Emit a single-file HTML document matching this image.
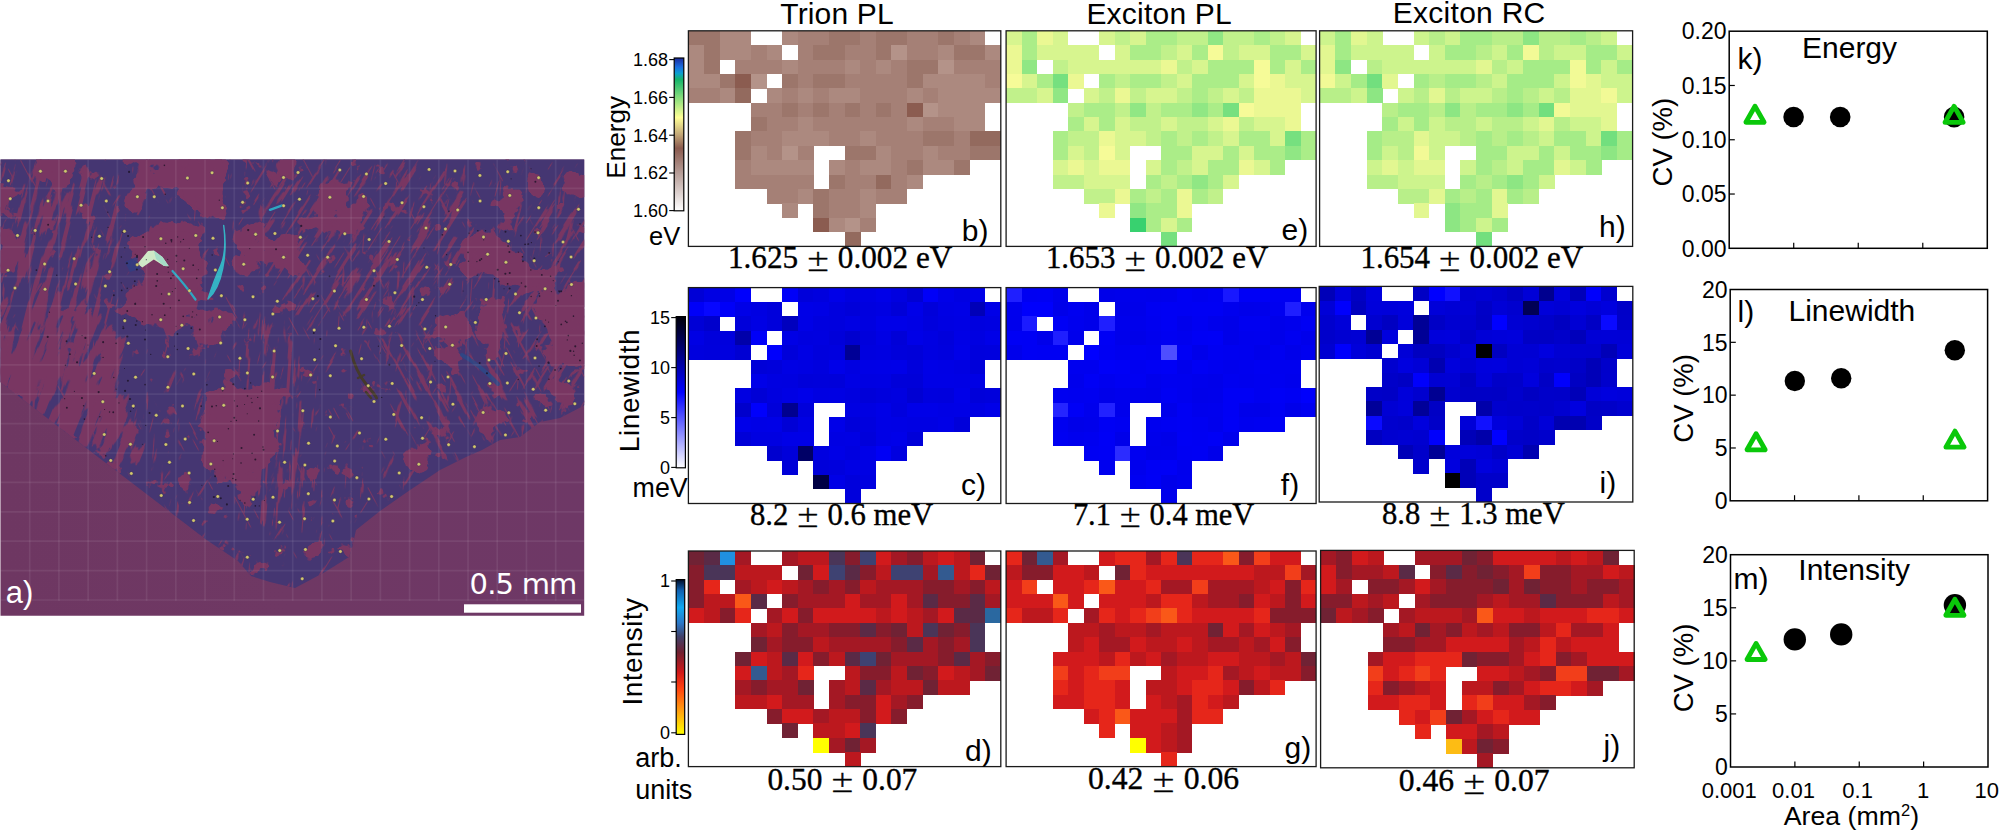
<!DOCTYPE html>
<html lang="en"><head><meta charset="utf-8"><title>Figure</title>
<style>
html,body{margin:0;padding:0;background:#fff;}
body{width:2000px;height:832px;overflow:hidden;}
svg{display:block;}
text{font-family:"Liberation Sans", sans-serif;fill:#000;}
.s{font-family:"Liberation Serif", serif;stroke:#000;stroke-width:0.35px;}
.w{fill:#fff;}
</style></head><body>
<svg width="2000" height="832" viewBox="0 0 2000 832">
<rect width="2000" height="832" fill="#fff"/>
<defs>
<clipPath id="mclip"><rect x="0.5" y="159.6" width="583.7" height="456.2"/></clipPath>
<clipPath id="fclip"><path d="M0 159 L585 159 L585 405 L560 418 L540 422 L520 437 L500 440 L482 450 L466 457 L440 470 L410 490 L380 511 L356 530 L352 548 L349 557 L325 572 L295 588 L270 582 L251 576 L238 561 L206 539.5 L100 458.4 L0 382 Z"/></clipPath>
<filter id="orgA" filterUnits="userSpaceOnUse" x="-300" y="-200" width="1300" height="1300" color-interpolation-filters="sRGB"><feGaussianBlur in="SourceAlpha" stdDeviation="4" result="b"/><feTurbulence type="fractalNoise" baseFrequency="0.05 0.05" numOctaves="4" seed="5" result="n"/><feColorMatrix in="n" type="matrix" values="0 0 0 0 0  0 0 0 0 0  0 0 0 0 0  1 0 0 0 0" result="na"/><feComposite in="b" in2="na" operator="arithmetic" k1="0" k2="0.66" k3="1.7" k4="-0.71" result="s"/><feComponentTransfer in="s" result="t"><feFuncA type="linear" slope="14" intercept="-6.5"/></feComponentTransfer><feFlood flood-color="#793662" result="c"/><feComposite in="c" in2="t" operator="in"/></filter>
<filter id="orgB" filterUnits="userSpaceOnUse" x="-300" y="-200" width="1300" height="1300" color-interpolation-filters="sRGB"><feGaussianBlur in="SourceAlpha" stdDeviation="3.5" result="b"/><feTurbulence type="fractalNoise" baseFrequency="0.06 0.06" numOctaves="3" seed="17" result="n"/><feColorMatrix in="n" type="matrix" values="0 0 0 0 0  0 0 0 0 0  0 0 0 0 0  1 0 0 0 0" result="na"/><feComposite in="b" in2="na" operator="arithmetic" k1="0" k2="0.9" k3="0.9" k4="-0.5" result="s"/><feComponentTransfer in="s" result="t"><feFuncA type="linear" slope="14" intercept="-6.5"/></feComponentTransfer><feFlood flood-color="#793662" result="c"/><feComposite in="c" in2="t" operator="in"/></filter>
<filter id="orgS" filterUnits="userSpaceOnUse" x="-300" y="-200" width="1300" height="1300" color-interpolation-filters="sRGB"><feGaussianBlur in="SourceAlpha" stdDeviation="10" result="b"/><feTurbulence type="fractalNoise" baseFrequency="0.17 0.02" numOctaves="3" seed="9" result="n"/><feColorMatrix in="n" type="matrix" values="0 0 0 0 0  0 0 0 0 0  0 0 0 0 0  1 0 0 0 0" result="na"/><feComposite in="b" in2="na" operator="arithmetic" k1="0" k2="0.44" k3="1.9" k4="-1" result="s"/><feComponentTransfer in="s" result="t"><feFuncA type="linear" slope="14" intercept="-6.5"/></feComponentTransfer><feFlood flood-color="#793662" result="c"/><feComposite in="c" in2="t" operator="in"/></filter>
<filter id="orgS4" filterUnits="userSpaceOnUse" x="-300" y="-200" width="1300" height="1300" color-interpolation-filters="sRGB"><feGaussianBlur in="SourceAlpha" stdDeviation="8" result="b"/><feTurbulence type="fractalNoise" baseFrequency="0.12 0.02" numOctaves="3" seed="31" result="n"/><feColorMatrix in="n" type="matrix" values="0 0 0 0 0  0 0 0 0 0  0 0 0 0 0  1 0 0 0 0" result="na"/><feComposite in="b" in2="na" operator="arithmetic" k1="0" k2="0.74" k3="1.9" k4="-1" result="s"/><feComponentTransfer in="s" result="t"><feFuncA type="linear" slope="14" intercept="-6.5"/></feComponentTransfer><feFlood flood-color="#793662" result="c"/><feComposite in="c" in2="t" operator="in"/></filter>
<filter id="orgS5" filterUnits="userSpaceOnUse" x="-300" y="-200" width="1300" height="1300" color-interpolation-filters="sRGB"><feGaussianBlur in="SourceAlpha" stdDeviation="10" result="b"/><feTurbulence type="fractalNoise" baseFrequency="0.2 0.022" numOctaves="3" seed="41" result="n"/><feColorMatrix in="n" type="matrix" values="0 0 0 0 0  0 0 0 0 0  0 0 0 0 0  1 0 0 0 0" result="na"/><feComposite in="b" in2="na" operator="arithmetic" k1="0" k2="0.31" k3="1.9" k4="-1" result="s"/><feComponentTransfer in="s" result="t"><feFuncA type="linear" slope="14" intercept="-6.5"/></feComponentTransfer><feFlood flood-color="#793662" result="c"/><feComposite in="c" in2="t" operator="in"/></filter>
<filter id="orgS2" filterUnits="userSpaceOnUse" x="-300" y="-200" width="1300" height="1300" color-interpolation-filters="sRGB"><feGaussianBlur in="SourceAlpha" stdDeviation="10" result="b"/><feTurbulence type="fractalNoise" baseFrequency="0.22 0.024" numOctaves="3" seed="14" result="n"/><feColorMatrix in="n" type="matrix" values="0 0 0 0 0  0 0 0 0 0  0 0 0 0 0  1 0 0 0 0" result="na"/><feComposite in="b" in2="na" operator="arithmetic" k1="0" k2="0.37" k3="1.9" k4="-1" result="s"/><feComponentTransfer in="s" result="t"><feFuncA type="linear" slope="14" intercept="-6.5"/></feComponentTransfer><feFlood flood-color="#793662" result="c"/><feComposite in="c" in2="t" operator="in"/></filter>
<filter id="orgS3" filterUnits="userSpaceOnUse" x="-300" y="-200" width="1300" height="1300" color-interpolation-filters="sRGB"><feGaussianBlur in="SourceAlpha" stdDeviation="10" result="b"/><feTurbulence type="fractalNoise" baseFrequency="0.21 0.02" numOctaves="3" seed="23" result="n"/><feColorMatrix in="n" type="matrix" values="0 0 0 0 0  0 0 0 0 0  0 0 0 0 0  1 0 0 0 0" result="na"/><feComposite in="b" in2="na" operator="arithmetic" k1="0" k2="0.4" k3="1.9" k4="-1" result="s"/><feComponentTransfer in="s" result="t"><feFuncA type="linear" slope="14" intercept="-6.5"/></feComponentTransfer><feFlood flood-color="#793662" result="c"/><feComposite in="c" in2="t" operator="in"/></filter>
<filter id="edge" x="-5%" y="-5%" width="110%" height="110%"><feTurbulence type="fractalNoise" baseFrequency="0.08" numOctaves="2" seed="8" result="n"/><feDisplacementMap in="SourceGraphic" in2="n" scale="5" xChannelSelector="R" yChannelSelector="G"/></filter>
<linearGradient id="bgg" x1="0" y1="0" x2="1" y2="0"><stop offset="0" stop-color="#6e3762"/><stop offset="0.5" stop-color="#6f3864"/><stop offset="1" stop-color="#6e3866"/></linearGradient>
</defs>
<g clip-path="url(#mclip)">
<rect x="0" y="159" width="585" height="458" fill="url(#bgg)"/>
<g clip-path="url(#fclip)">
<rect x="0" y="159" width="585" height="440" fill="#453672"/>
<g filter="url(#orgA)">
<path d="M174 150 L226 150 L226 190 L224 218 L202 219 L178 194 Z"/><path d="M117 150 L176 150 L176 186 L150 188 L128 182 Z"/><path d="M119 192 L146 191 L147 212 L124 213 Z"/><path d="M33 150 L72 150 L70 188 L40 190 Z"/><path d="M-8 184 L11 184 L12 218 L-8 220 Z"/><path d="M-8 234 L15 234 L15 270 L-8 270 Z"/><path d="M128 232 L168 224 L200 228 L205 270 L200 318 L170 330 L128 320 L122 290 L150 276 L130 262 Z"/><path d="M228 228 L261 226 L262 276 L236 278 Z"/><path d="M264 237 L300 236 L300 276 L266 276 Z"/><path d="M190 309 L228 309 L229 343 L192 343 Z"/><path d="M292 217 L336 217 L336 229 L292 229 Z"/><path d="M322 180 L340 180 L341 205 L323 206 Z"/><path d="M263 160 L290 160 L290 182 L264 182 Z"/><path d="M466 232 L485 228 L504 240 L524 259 L552 278 L558 294 L531 290 L508 288 L493 278 L466 270 L460 251 Z"/><path d="M500 188 L523 187 L524 211 L501 211 Z"/><path d="M531 172 L546 172 L546 197 L531 197 Z"/><path d="M564 172 L592 172 L592 194 L564 194 Z"/><path d="M539 287 L592 284 L592 372 L560 372 L545 340 L536 312 Z"/><path d="M477 297 L504 297 L504 353 L478 353 Z"/><path d="M435 343 L466 343 L466 363 L436 363 Z"/><path d="M317 189 L365 189 L365 228 L318 228 Z"/><path d="M434 312 L470 312 L470 338 L436 338 Z"/><path d="M212 392 L264 382 L284 398 L276 442 L258 478 L240 505 L222 488 L202 460 L201 424 Z"/><path d="M165 477 L189 477 L189 490 L165 490 Z"/><path d="M299 464 L314 464 L314 481 L299 481 Z"/><path d="M311 542 L319 542 L319 553 L311 553 Z"/><path d="M400 455 L430 440 L445 452 L418 476 Z"/><path d="M470 420 L500 405 L512 420 L488 440 Z"/><path d="M530 395 L560 380 L575 395 L548 415 Z"/>
</g>
<g filter="url(#orgB)">
<path d="M176 150 L224 150 L224 190 L222 216 L204 217 L180 196 Z"/><path d="M468 234 L485 230 L504 242 L524 261 L550 278 L554 292 L531 288 L508 286 L494 276 L468 268 L463 251 Z"/><path d="M215 397 L262 387 L280 400 L272 440 L256 472 L226 482 L206 456 L205 426 Z"/><path d="M130 236 L166 228 L198 232 L202 268 L198 312 L170 324 L132 316 L126 292 L150 280 L134 262 Z"/><path d="M541 292 L592 288 L592 366 L562 366 L548 338 L540 312 Z"/>
</g>
<g transform="rotate(14 292 380)" filter="url(#orgS)"><g transform="rotate(-14 292 380)"><path d="M-10 165 L110 165 L125 300 L80 400 L-10 390 Z"/></g></g>
<g transform="rotate(22 292 380)" filter="url(#orgS4)"><g transform="rotate(-22 292 380)"><path d="M-8 300 L60 296 L110 318 L128 350 L120 400 L140 440 L150 470 L100 462 L-8 384 Z"/></g></g>
<g transform="rotate(32 292 380)" filter="url(#orgS2)"><g transform="rotate(-32 292 380)"><path d="M250 165 L460 165 L470 300 L420 330 L300 330 L260 260 Z"/><path d="M520 200 L590 200 L590 400 L520 400 Z"/></g></g>
<g transform="rotate(4 292 380)" filter="url(#orgS3)"><g transform="rotate(-4 292 380)"><path d="M245 330 L310 330 L305 530 L240 520 Z"/></g></g>
<g transform="rotate(-28 292 380)" filter="url(#orgS5)"><g transform="rotate(28 292 380)"><path d="M380 330 L560 330 L540 430 L400 470 Z"/></g></g>
<path d="M462 355 Q480 365 498 384" stroke="#2b4a88" stroke-width="4" fill="none" stroke-linecap="round" opacity="0.8"/>
<path d="M350.6 351 Q356 372 366 384 T376.5 398" stroke="#453a2c" stroke-width="3" fill="none" stroke-linecap="round"/>
<path d="M358 378 l6 -3 M366 392 l5 6" stroke="#453a2c" stroke-width="2.5" fill="none" stroke-linecap="round"/>
</g>
<path d="M137.5 263.7 L148 251 L153.8 250.6 L162.5 257 L168.8 266.2 L164 266 L153.8 259.5 L142.3 267.5 Z" fill="#cfe9c6"/>
<path d="M153.8 250.6 L162.5 257 L168.8 266.2 L164 266 L156 259 Z" fill="#a6dcc8"/>
<path d="M125 262 L138 256 L137.5 263.7 L142 268 L130 272 Z" fill="#2d3f86" opacity="0.7"/>
<path d="M172.5 271 Q186 286 195.5 299.5" stroke="#2fa6c2" stroke-width="2.2" fill="none" stroke-linecap="round"/>
<path d="M223.7 225.5 Q227 247 222.7 268.5 T208 299 Q214 280 220.5 266 T223.7 225.5 Z" fill="#35b3c4" stroke="#35b3c4" stroke-width="1.4" stroke-linejoin="round"/>
<path d="M270 209.8 L282.3 205.4" stroke="#2fa6c2" stroke-width="2.4" fill="none" stroke-linecap="round"/>
<g fill="#1c1226" opacity="0.8">
<circle cx="156.19" cy="285.98" r="1.05"/><circle cx="157.25" cy="280.78" r="0.85"/><circle cx="134.77" cy="281.19" r="0.88"/><circle cx="183.44" cy="239.41" r="0.68"/><circle cx="127.25" cy="310.96" r="0.92"/><circle cx="123.35" cy="328.22" r="1.08"/><circle cx="172.31" cy="291.56" r="0.59"/><circle cx="121.2" cy="282.84" r="0.54"/><circle cx="135.22" cy="254.19" r="0.52"/><circle cx="157.11" cy="274.05" r="1.01"/><circle cx="161.53" cy="294.03" r="0.8"/><circle cx="173" cy="275.73" r="0.67"/><circle cx="199.81" cy="329.57" r="1"/><circle cx="176.62" cy="261.53" r="0.64"/><circle cx="143.12" cy="237.02" r="0.96"/><circle cx="152.03" cy="314.66" r="0.73"/><circle cx="196.64" cy="314.73" r="0.5"/><circle cx="136.78" cy="321.03" r="0.78"/><circle cx="198.43" cy="269.74" r="0.54"/><circle cx="170.36" cy="307.85" r="0.66"/><circle cx="126.97" cy="263.26" r="1.08"/><circle cx="180.64" cy="241.8" r="0.65"/><circle cx="128.08" cy="235.99" r="0.98"/><circle cx="134.21" cy="285.93" r="0.77"/><circle cx="135.25" cy="303.19" r="0.58"/><circle cx="171.5" cy="241.65" r="0.75"/><circle cx="137.03" cy="256.98" r="1.08"/><circle cx="184.27" cy="260.41" r="1.03"/><circle cx="136.86" cy="269.43" r="1.01"/><circle cx="171.35" cy="240.03" r="1.09"/><circle cx="137.06" cy="255.83" r="0.96"/><circle cx="146.32" cy="259.63" r="0.54"/><circle cx="127.21" cy="288.27" r="0.65"/><circle cx="168.1" cy="267.17" r="0.77"/><circle cx="196.73" cy="278.37" r="0.84"/><circle cx="189.32" cy="248.28" r="0.59"/><circle cx="192.67" cy="311.78" r="0.65"/><circle cx="135.18" cy="303.94" r="1.06"/><circle cx="135.73" cy="325.01" r="1.03"/><circle cx="168.28" cy="272.15" r="0.56"/><circle cx="123.1" cy="326.27" r="0.64"/><circle cx="176.37" cy="255.7" r="0.99"/><circle cx="167.72" cy="259.34" r="0.61"/><circle cx="177.63" cy="236.88" r="0.64"/><circle cx="164.75" cy="315.24" r="0.87"/><circle cx="142.42" cy="321.74" r="0.62"/><circle cx="121.33" cy="256.92" r="0.77"/><circle cx="124.84" cy="247.63" r="0.72"/><circle cx="165.77" cy="243.16" r="0.72"/><circle cx="191.28" cy="328.05" r="0.89"/><circle cx="175.3" cy="288.44" r="0.58"/><circle cx="122.81" cy="231.79" r="1.05"/><circle cx="176.08" cy="326.28" r="0.51"/><circle cx="170.89" cy="278.22" r="0.94"/><circle cx="145.51" cy="329.94" r="0.55"/><circle cx="163.69" cy="303.7" r="1.04"/><circle cx="178.97" cy="300.37" r="0.98"/><circle cx="193.2" cy="265.18" r="0.91"/><circle cx="192.07" cy="317.11" r="0.75"/><circle cx="183.24" cy="316.35" r="0.84"/><circle cx="522.5" cy="256.76" r="0.85"/><circle cx="520.89" cy="235.61" r="0.88"/><circle cx="559.33" cy="291.59" r="0.94"/><circle cx="498.84" cy="281.45" r="0.85"/><circle cx="504.05" cy="288.69" r="0.55"/><circle cx="535.02" cy="232.09" r="0.86"/><circle cx="508.1" cy="246.12" r="0.92"/><circle cx="509.73" cy="273.02" r="1.05"/><circle cx="485.58" cy="230.79" r="0.68"/><circle cx="527.81" cy="244.18" r="0.6"/><circle cx="550.57" cy="276.2" r="0.77"/><circle cx="549.17" cy="252.89" r="0.9"/><circle cx="479.85" cy="260.16" r="0.98"/><circle cx="551.42" cy="291.62" r="0.73"/><circle cx="518.31" cy="252.15" r="0.58"/><circle cx="509.65" cy="288.6" r="1.01"/><circle cx="531.12" cy="296.5" r="0.67"/><circle cx="476.91" cy="261.55" r="0.67"/><circle cx="481.41" cy="258.98" r="0.88"/><circle cx="509.39" cy="252.08" r="1"/><circle cx="558.2" cy="261.67" r="0.54"/><circle cx="463.15" cy="291.1" r="0.52"/><circle cx="530.86" cy="269.94" r="0.69"/><circle cx="539.15" cy="231.34" r="0.58"/><circle cx="505.48" cy="231.73" r="1"/><circle cx="483.74" cy="239.86" r="0.53"/><circle cx="522.92" cy="261.25" r="0.88"/><circle cx="525.5" cy="286.52" r="1.08"/><circle cx="528.45" cy="243.95" r="0.79"/><circle cx="477.87" cy="230.75" r="0.78"/><circle cx="531.42" cy="242.54" r="0.66"/><circle cx="494.57" cy="278.81" r="0.81"/><circle cx="521.44" cy="282.93" r="0.74"/><circle cx="539.19" cy="293.44" r="0.55"/><circle cx="553.26" cy="280.57" r="0.58"/><circle cx="505.35" cy="273.79" r="1.05"/><circle cx="497.68" cy="269.82" r="1.03"/><circle cx="539.68" cy="296.1" r="0.78"/><circle cx="525.13" cy="244.34" r="0.93"/><circle cx="541.83" cy="274.91" r="0.93"/><circle cx="213.86" cy="497" r="1.09"/><circle cx="263.53" cy="449.8" r="0.97"/><circle cx="220.83" cy="498.3" r="1.01"/><circle cx="222.65" cy="390.76" r="0.76"/><circle cx="235.77" cy="479.87" r="0.79"/><circle cx="201.85" cy="485.19" r="0.54"/><circle cx="251.99" cy="402.48" r="0.7"/><circle cx="251.21" cy="398.27" r="0.59"/><circle cx="233.57" cy="474.06" r="1"/><circle cx="244.81" cy="502.95" r="0.8"/><circle cx="261.7" cy="391.18" r="0.63"/><circle cx="234.23" cy="417.72" r="0.94"/><circle cx="241.53" cy="447.96" r="1.01"/><circle cx="236.4" cy="420.52" r="0.73"/><circle cx="254.94" cy="497.07" r="0.62"/><circle cx="255.3" cy="505.9" r="0.81"/><circle cx="237.24" cy="406.13" r="0.82"/><circle cx="232.71" cy="458.68" r="0.52"/><circle cx="263.01" cy="447.08" r="0.74"/><circle cx="252.07" cy="453.17" r="0.79"/><circle cx="244.91" cy="388.57" r="0.82"/><circle cx="226.9" cy="504.39" r="1.05"/><circle cx="217.5" cy="441.51" r="0.58"/><circle cx="228.19" cy="486.04" r="1.04"/><circle cx="230.97" cy="421.24" r="0.61"/><circle cx="240.16" cy="500.29" r="0.58"/><circle cx="250.65" cy="382.96" r="0.62"/><circle cx="214.77" cy="469.31" r="0.69"/><circle cx="223.1" cy="460.57" r="0.56"/><circle cx="247.51" cy="395.96" r="0.81"/><circle cx="216.29" cy="405.7" r="0.82"/><circle cx="228.39" cy="428.85" r="0.75"/><circle cx="234.41" cy="400.76" r="0.62"/><circle cx="241.04" cy="463" r="0.82"/><circle cx="255.33" cy="459.52" r="1.01"/><circle cx="215.12" cy="476.3" r="0.99"/><circle cx="258.67" cy="421.06" r="0.69"/><circle cx="259.98" cy="408.36" r="1.1"/><circle cx="257.69" cy="397.41" r="0.64"/><circle cx="247.23" cy="413.73" r="0.56"/><circle cx="254.09" cy="434.81" r="0.97"/><circle cx="208.19" cy="432.36" r="0.91"/><circle cx="201.15" cy="406.12" r="0.91"/><circle cx="259.24" cy="505.89" r="0.57"/><circle cx="232.87" cy="478.56" r="0.8"/><circle cx="244.57" cy="404.57" r="0.54"/><circle cx="206.9" cy="384.87" r="0.83"/><circle cx="233.46" cy="453.94" r="0.59"/><circle cx="211.99" cy="406.51" r="1"/><circle cx="264.37" cy="500.5" r="0.56"/><circle cx="539.04" cy="366.12" r="0.78"/><circle cx="573.47" cy="316.15" r="0.78"/><circle cx="561.25" cy="324.41" r="0.86"/><circle cx="536.65" cy="346.08" r="1.01"/><circle cx="544.88" cy="326.32" r="0.94"/><circle cx="555.86" cy="305.61" r="0.6"/><circle cx="561.12" cy="291.23" r="1.04"/><circle cx="575.28" cy="346.37" r="1.02"/><circle cx="566.84" cy="322.36" r="0.86"/><circle cx="560.71" cy="368.61" r="0.98"/><circle cx="548.65" cy="362.9" r="0.95"/><circle cx="574.12" cy="355.17" r="0.74"/><circle cx="579.93" cy="360.39" r="0.92"/><circle cx="573.6" cy="351.22" r="0.74"/><circle cx="571.41" cy="295.64" r="0.71"/><circle cx="558.97" cy="290.85" r="0.71"/><circle cx="567.3" cy="339.92" r="0.64"/><circle cx="582.29" cy="343.29" r="0.7"/><circle cx="568.33" cy="335.57" r="0.82"/><circle cx="555.09" cy="369.99" r="0.89"/><circle cx="570.36" cy="350.94" r="1.09"/><circle cx="537.12" cy="339.23" r="0.94"/><circle cx="548.58" cy="322.12" r="0.53"/><circle cx="545.58" cy="320.05" r="0.56"/><circle cx="548.29" cy="362.45" r="0.83"/><circle cx="105.7" cy="455.73" r="0.84"/><circle cx="149.56" cy="412.94" r="0.99"/><circle cx="66.86" cy="407.68" r="0.96"/><circle cx="74.39" cy="391.33" r="0.6"/><circle cx="104.6" cy="409.45" r="0.54"/><circle cx="145.07" cy="384.69" r="0.82"/><circle cx="113.8" cy="377.52" r="0.67"/><circle cx="118.96" cy="402.88" r="0.67"/><circle cx="124.49" cy="368.49" r="0.51"/><circle cx="82.05" cy="335.56" r="0.59"/><circle cx="127.92" cy="380.69" r="1.04"/><circle cx="127.35" cy="336.52" r="1.09"/><circle cx="145" cy="339.56" r="1.04"/><circle cx="98.66" cy="392.09" r="1.08"/><circle cx="81.93" cy="398.04" r="1.06"/><circle cx="125.05" cy="390.89" r="1.09"/><circle cx="133.5" cy="408.47" r="0.57"/><circle cx="116.18" cy="389.24" r="0.62"/><circle cx="64.69" cy="398.65" r="0.57"/><circle cx="99.86" cy="416.83" r="0.77"/><circle cx="83.59" cy="405.69" r="0.75"/><circle cx="130.02" cy="399" r="1.1"/><circle cx="145.74" cy="425.46" r="0.64"/><circle cx="130.59" cy="411.25" r="0.72"/><circle cx="84.44" cy="419.06" r="0.84"/><circle cx="113.25" cy="412.3" r="0.95"/><circle cx="77.08" cy="362.36" r="1.09"/><circle cx="142.41" cy="444.24" r="0.52"/><circle cx="65.47" cy="365.22" r="0.76"/><circle cx="116.1" cy="343.32" r="0.82"/><circle cx="66.52" cy="341.24" r="0.91"/><circle cx="109.56" cy="412.04" r="0.72"/><circle cx="103.07" cy="357.38" r="0.71"/><circle cx="434.98" cy="361.25" r="0.54"/><circle cx="69.96" cy="354.2" r="0.87"/><circle cx="448.95" cy="211.16" r="0.75"/><circle cx="150.71" cy="354.37" r="0.72"/><circle cx="381.74" cy="397.4" r="0.7"/><circle cx="320.39" cy="339.07" r="1.05"/><circle cx="249.75" cy="248.62" r="0.56"/><circle cx="511.1" cy="178.84" r="0.55"/><circle cx="329.5" cy="276.37" r="0.91"/><circle cx="174.54" cy="346.12" r="0.55"/><circle cx="124.54" cy="318.9" r="0.55"/><circle cx="177.42" cy="334" r="0.92"/><circle cx="165.22" cy="194.3" r="0.71"/><circle cx="423.97" cy="247.93" r="0.57"/><circle cx="414.22" cy="296.63" r="1.05"/><circle cx="548.92" cy="379.21" r="0.76"/><circle cx="468.98" cy="233.14" r="0.69"/><circle cx="233.36" cy="384.32" r="1.04"/><circle cx="145.01" cy="246.81" r="0.72"/><circle cx="212.17" cy="254.95" r="0.73"/><circle cx="113.86" cy="295.31" r="0.98"/><circle cx="315.69" cy="360.73" r="0.84"/><circle cx="103.13" cy="342.15" r="1.03"/><circle cx="164.37" cy="165.34" r="0.81"/><circle cx="317.78" cy="296.19" r="1.08"/><circle cx="380.3" cy="353.04" r="0.54"/><circle cx="319.34" cy="349.14" r="0.55"/><circle cx="47.7" cy="336.89" r="1.04"/><circle cx="49.46" cy="312.19" r="0.59"/><circle cx="435.54" cy="315.76" r="0.65"/><circle cx="128.74" cy="343.68" r="0.81"/><circle cx="446.59" cy="254.65" r="0.7"/><circle cx="565.47" cy="321.37" r="0.8"/><circle cx="313.81" cy="333.02" r="0.92"/><circle cx="534.35" cy="258.55" r="1"/><circle cx="389.37" cy="364.84" r="0.98"/><circle cx="486.96" cy="373.28" r="1.07"/><circle cx="373.92" cy="285.73" r="0.93"/><circle cx="468.52" cy="261.19" r="0.75"/><circle cx="85.37" cy="337.9" r="1.09"/><circle cx="219.31" cy="200.24" r="0.62"/><circle cx="248.17" cy="230.09" r="1.08"/><circle cx="34.58" cy="234.03" r="0.57"/><circle cx="378.42" cy="346.22" r="0.61"/><circle cx="36.41" cy="270.1" r="0.85"/><circle cx="531.03" cy="168.73" r="0.57"/><circle cx="107.77" cy="212.17" r="0.64"/><circle cx="418.87" cy="302.75" r="0.63"/><circle cx="108.03" cy="227.45" r="0.6"/><circle cx="442.38" cy="234.82" r="0.83"/><circle cx="477.2" cy="275.08" r="0.66"/><circle cx="518.25" cy="379.42" r="0.71"/><circle cx="319.65" cy="389.68" r="0.79"/><circle cx="129.07" cy="171.93" r="1.07"/><circle cx="468.03" cy="252.39" r="0.82"/><circle cx="301.24" cy="225.89" r="1.09"/><circle cx="384.01" cy="217.03" r="0.51"/><circle cx="276.03" cy="249.17" r="0.98"/><circle cx="416.56" cy="305.46" r="0.59"/><circle cx="91.64" cy="237.23" r="0.66"/><circle cx="507.64" cy="283.87" r="0.88"/><circle cx="579.98" cy="223.96" r="0.82"/><circle cx="87.98" cy="344.89" r="0.5"/><circle cx="479.71" cy="363.08" r="0.99"/><circle cx="48.14" cy="224.78" r="0.93"/><circle cx="56.75" cy="275.22" r="0.78"/><circle cx="558.01" cy="300.79" r="1.01"/><circle cx="177.3" cy="349.44" r="0.75"/><circle cx="535.39" cy="181.83" r="1"/><circle cx="121.71" cy="290.41" r="0.82"/>
</g>
<g stroke="#ffffff" stroke-opacity="0.075" stroke-width="1.7">
<line x1="29.72" y1="159.6" x2="29.72" y2="600.8"/><line x1="58.94" y1="159.6" x2="58.94" y2="600.8"/><line x1="88.16" y1="159.6" x2="88.16" y2="600.8"/><line x1="117.38" y1="159.6" x2="117.38" y2="600.8"/><line x1="146.6" y1="159.6" x2="146.6" y2="600.8"/><line x1="175.82" y1="159.6" x2="175.82" y2="600.8"/><line x1="205.04" y1="159.6" x2="205.04" y2="600.8"/><line x1="234.26" y1="159.6" x2="234.26" y2="600.8"/><line x1="263.48" y1="159.6" x2="263.48" y2="600.8"/><line x1="292.7" y1="159.6" x2="292.7" y2="600.8"/><line x1="321.92" y1="159.6" x2="321.92" y2="600.8"/><line x1="351.14" y1="159.6" x2="351.14" y2="600.8"/><line x1="380.36" y1="159.6" x2="380.36" y2="600.8"/><line x1="409.58" y1="159.6" x2="409.58" y2="600.8"/><line x1="438.8" y1="159.6" x2="438.8" y2="600.8"/><line x1="468.02" y1="159.6" x2="468.02" y2="600.8"/><line x1="497.24" y1="159.6" x2="497.24" y2="600.8"/><line x1="526.46" y1="159.6" x2="526.46" y2="600.8"/><line x1="555.68" y1="159.6" x2="555.68" y2="600.8"/><line x1="0" y1="188.4" x2="584" y2="188.4"/><line x1="0" y1="217.8" x2="584" y2="217.8"/><line x1="0" y1="247.2" x2="584" y2="247.2"/><line x1="0" y1="276.6" x2="584" y2="276.6"/><line x1="0" y1="306" x2="584" y2="306"/><line x1="0" y1="335.4" x2="584" y2="335.4"/><line x1="0" y1="364.8" x2="584" y2="364.8"/><line x1="0" y1="394.2" x2="584" y2="394.2"/><line x1="0" y1="423.6" x2="584" y2="423.6"/><line x1="0" y1="453" x2="584" y2="453"/><line x1="0" y1="482.4" x2="584" y2="482.4"/><line x1="0" y1="511.8" x2="584" y2="511.8"/><line x1="0" y1="541.2" x2="584" y2="541.2"/><line x1="0" y1="570.6" x2="584" y2="570.6"/><line x1="0" y1="600" x2="584" y2="600"/>
</g>
<g fill="#d2c66e" stroke="#241a48" stroke-opacity="0.45" stroke-width="0.7">
<circle cx="8.45" cy="180.68" r="1.75"/><circle cx="40.44" cy="171.29" r="1.75"/><circle cx="65.42" cy="171.2" r="1.75"/><circle cx="101.68" cy="178.57" r="1.75"/><circle cx="187.4" cy="178.07" r="1.75"/><circle cx="212.05" cy="172.8" r="1.75"/><circle cx="247.68" cy="183.1" r="1.75"/><circle cx="283.53" cy="177.47" r="1.75"/><circle cx="298.03" cy="172.49" r="1.75"/><circle cx="339.81" cy="169.97" r="1.75"/><circle cx="366.4" cy="173.95" r="1.75"/><circle cx="385.66" cy="183.55" r="1.75"/><circle cx="429.08" cy="169.42" r="1.75"/><circle cx="455" cy="170.93" r="1.75"/><circle cx="479.9" cy="175.42" r="1.75"/><circle cx="507.72" cy="171.77" r="1.75"/><circle cx="538.63" cy="177.7" r="1.75"/><circle cx="10.23" cy="198.7" r="1.75"/><circle cx="48" cy="201.03" r="1.75"/><circle cx="81.06" cy="205.23" r="1.75"/><circle cx="106.3" cy="201.07" r="1.75"/><circle cx="137.37" cy="196.76" r="1.75"/><circle cx="154.24" cy="196.8" r="1.75"/><circle cx="222.35" cy="207.85" r="1.75"/><circle cx="242.61" cy="202.34" r="1.75"/><circle cx="283.65" cy="205.77" r="1.75"/><circle cx="299.43" cy="199.18" r="1.75"/><circle cx="329.86" cy="197.33" r="1.75"/><circle cx="363.57" cy="196.41" r="1.75"/><circle cx="402.04" cy="202.79" r="1.75"/><circle cx="423.9" cy="206.75" r="1.75"/><circle cx="457.71" cy="209.88" r="1.75"/><circle cx="480.08" cy="201.07" r="1.75"/><circle cx="509.77" cy="195.38" r="1.75"/><circle cx="538.78" cy="207.7" r="1.75"/><circle cx="578.47" cy="209.31" r="1.75"/><circle cx="17.49" cy="235.45" r="1.75"/><circle cx="35.16" cy="230.46" r="1.75"/><circle cx="99.43" cy="236.21" r="1.75"/><circle cx="124.4" cy="231.3" r="1.75"/><circle cx="160.88" cy="238.69" r="1.75"/><circle cx="195.78" cy="235.51" r="1.75"/><circle cx="213" cy="238.3" r="1.75"/><circle cx="255.62" cy="234.37" r="1.75"/><circle cx="274.94" cy="233.51" r="1.75"/><circle cx="300.36" cy="237.34" r="1.75"/><circle cx="344.79" cy="233.79" r="1.75"/><circle cx="369.13" cy="239.54" r="1.75"/><circle cx="389.02" cy="241.51" r="1.75"/><circle cx="425.98" cy="228.06" r="1.75"/><circle cx="445.41" cy="228.9" r="1.75"/><circle cx="483.51" cy="237.05" r="1.75"/><circle cx="508.28" cy="241.22" r="1.75"/><circle cx="538.07" cy="232.83" r="1.75"/><circle cx="563.02" cy="242.02" r="1.75"/><circle cx="8.05" cy="270.17" r="1.75"/><circle cx="44.61" cy="263.99" r="1.75"/><circle cx="74.14" cy="258.66" r="1.75"/><circle cx="109.64" cy="271.76" r="1.75"/><circle cx="137.21" cy="264.73" r="1.75"/><circle cx="183.14" cy="268.74" r="1.75"/><circle cx="215.34" cy="270.05" r="1.75"/><circle cx="243.71" cy="264.22" r="1.75"/><circle cx="283.54" cy="257.24" r="1.75"/><circle cx="307.67" cy="255.27" r="1.75"/><circle cx="327.61" cy="257.14" r="1.75"/><circle cx="374.02" cy="270.81" r="1.75"/><circle cx="397.32" cy="259.44" r="1.75"/><circle cx="426.77" cy="267.18" r="1.75"/><circle cx="450.78" cy="264.55" r="1.75"/><circle cx="487.6" cy="254.19" r="1.75"/><circle cx="505.94" cy="262.32" r="1.75"/><circle cx="534.14" cy="260.85" r="1.75"/><circle cx="571.04" cy="257.03" r="1.75"/><circle cx="14.97" cy="288.05" r="1.75"/><circle cx="45.05" cy="289.28" r="1.75"/><circle cx="75.6" cy="283.98" r="1.75"/><circle cx="105.35" cy="285.91" r="1.75"/><circle cx="168.98" cy="294.1" r="1.75"/><circle cx="189.39" cy="290.71" r="1.75"/><circle cx="221.38" cy="295.71" r="1.75"/><circle cx="253.01" cy="296.83" r="1.75"/><circle cx="277.33" cy="301.2" r="1.75"/><circle cx="312.9" cy="298.69" r="1.75"/><circle cx="334.39" cy="291.11" r="1.75"/><circle cx="366.44" cy="299.59" r="1.75"/><circle cx="394.94" cy="292.75" r="1.75"/><circle cx="422.47" cy="299.58" r="1.75"/><circle cx="449.68" cy="284.28" r="1.75"/><circle cx="486.19" cy="299.5" r="1.75"/><circle cx="515.53" cy="294.06" r="1.75"/><circle cx="545.1" cy="288.79" r="1.75"/><circle cx="571.47" cy="284.56" r="1.75"/><circle cx="124.73" cy="320.75" r="1.75"/><circle cx="160.76" cy="319.84" r="1.75"/><circle cx="181.87" cy="325.21" r="1.75"/><circle cx="219.62" cy="317" r="1.75"/><circle cx="244.88" cy="319.82" r="1.75"/><circle cx="272.84" cy="313.93" r="1.75"/><circle cx="314.21" cy="330.1" r="1.75"/><circle cx="339.01" cy="328.3" r="1.75"/><circle cx="363.84" cy="327.19" r="1.75"/><circle cx="389.46" cy="326.14" r="1.75"/><circle cx="424.89" cy="328.96" r="1.75"/><circle cx="445.68" cy="326.96" r="1.75"/><circle cx="475.36" cy="322.38" r="1.75"/><circle cx="519.47" cy="312.71" r="1.75"/><circle cx="535.96" cy="318.09" r="1.75"/><circle cx="128.34" cy="343.23" r="1.75"/><circle cx="167.82" cy="356.78" r="1.75"/><circle cx="188.08" cy="348.52" r="1.75"/><circle cx="220.69" cy="342.93" r="1.75"/><circle cx="239.93" cy="358.27" r="1.75"/><circle cx="274.13" cy="351.07" r="1.75"/><circle cx="314.62" cy="359.69" r="1.75"/><circle cx="335.54" cy="345.82" r="1.75"/><circle cx="361.57" cy="358.71" r="1.75"/><circle cx="401.61" cy="345.62" r="1.75"/><circle cx="429.77" cy="348.47" r="1.75"/><circle cx="452.41" cy="345.19" r="1.75"/><circle cx="488.96" cy="360.02" r="1.75"/><circle cx="505.99" cy="353.48" r="1.75"/><circle cx="535.02" cy="357.94" r="1.75"/><circle cx="94.17" cy="373.41" r="1.75"/><circle cx="135.55" cy="377.13" r="1.75"/><circle cx="167.92" cy="387.15" r="1.75"/><circle cx="193.77" cy="373.93" r="1.75"/><circle cx="222.68" cy="388.38" r="1.75"/><circle cx="247.38" cy="372.92" r="1.75"/><circle cx="272.61" cy="377.03" r="1.75"/><circle cx="310.6" cy="375.04" r="1.75"/><circle cx="330.29" cy="375.74" r="1.75"/><circle cx="368.21" cy="385.73" r="1.75"/><circle cx="392.18" cy="383.42" r="1.75"/><circle cx="430.61" cy="382.12" r="1.75"/><circle cx="448.03" cy="376.92" r="1.75"/><circle cx="489.81" cy="383.51" r="1.75"/><circle cx="507.33" cy="383.02" r="1.75"/><circle cx="533.19" cy="389.19" r="1.75"/><circle cx="568.72" cy="381.01" r="1.75"/><circle cx="102.82" cy="401.72" r="1.75"/><circle cx="133.28" cy="406.02" r="1.75"/><circle cx="156.23" cy="415.36" r="1.75"/><circle cx="182.5" cy="406.03" r="1.75"/><circle cx="223.75" cy="405.33" r="1.75"/><circle cx="302.83" cy="410.77" r="1.75"/><circle cx="330.38" cy="417.05" r="1.75"/><circle cx="374.03" cy="401.51" r="1.75"/><circle cx="393.78" cy="414.41" r="1.75"/><circle cx="421.61" cy="417.63" r="1.75"/><circle cx="452.91" cy="404.14" r="1.75"/><circle cx="483.14" cy="412.51" r="1.75"/><circle cx="508.82" cy="412.75" r="1.75"/><circle cx="545.66" cy="410.2" r="1.75"/><circle cx="574.82" cy="403.87" r="1.75"/><circle cx="104.22" cy="434.54" r="1.75"/><circle cx="130.42" cy="444.21" r="1.75"/><circle cx="165.87" cy="444.54" r="1.75"/><circle cx="185.18" cy="439.1" r="1.75"/><circle cx="214.13" cy="440.74" r="1.75"/><circle cx="277.57" cy="430.94" r="1.75"/><circle cx="308.55" cy="443.16" r="1.75"/><circle cx="337.34" cy="446.01" r="1.75"/><circle cx="359.49" cy="433.03" r="1.75"/><circle cx="385.79" cy="439.23" r="1.75"/><circle cx="422.51" cy="438.25" r="1.75"/><circle cx="448.64" cy="444.67" r="1.75"/><circle cx="474.44" cy="446.63" r="1.75"/><circle cx="505.44" cy="434.89" r="1.75"/><circle cx="110.74" cy="460.46" r="1.75"/><circle cx="131.3" cy="473.4" r="1.75"/><circle cx="169.46" cy="462.3" r="1.75"/><circle cx="189.13" cy="473.11" r="1.75"/><circle cx="210.86" cy="464.03" r="1.75"/><circle cx="284.61" cy="462.25" r="1.75"/><circle cx="304.88" cy="465.07" r="1.75"/><circle cx="334.67" cy="461.08" r="1.75"/><circle cx="356.87" cy="477.63" r="1.75"/><circle cx="399.21" cy="472.91" r="1.75"/><circle cx="418.83" cy="464.26" r="1.75"/><circle cx="161.23" cy="495.52" r="1.75"/><circle cx="189.55" cy="502.42" r="1.75"/><circle cx="217.79" cy="496.47" r="1.75"/><circle cx="253.18" cy="499.21" r="1.75"/><circle cx="272.99" cy="497.13" r="1.75"/><circle cx="308.31" cy="493.69" r="1.75"/><circle cx="334.46" cy="500.05" r="1.75"/><circle cx="368.89" cy="499.01" r="1.75"/><circle cx="391.62" cy="496.57" r="1.75"/><circle cx="193.56" cy="520.55" r="1.75"/><circle cx="247.2" cy="519.23" r="1.75"/><circle cx="279.5" cy="522.13" r="1.75"/><circle cx="304.56" cy="518.69" r="1.75"/><circle cx="332.85" cy="521.12" r="1.75"/><circle cx="247.3" cy="557.14" r="1.75"/><circle cx="279.74" cy="550.59" r="1.75"/><circle cx="305.42" cy="549.44" r="1.75"/><circle cx="340.4" cy="551.5" r="1.75"/><circle cx="302.22" cy="578.81" r="1.75"/>
</g>
</g>
<text class="w" x="5.8" y="602.7" font-size="31">a)</text>
<text class="w" x="469.5" y="593.9" font-size="29" letter-spacing="-0.8" style="font-family:'DejaVu Sans','Liberation Sans',sans-serif">0.5 mm</text>
<rect x="464" y="604.3" width="117" height="8.4" fill="#fff"/>
<g shape-rendering="crispEdges">
<rect x="688.4" y="30.8" width="31.54" height="14.67" fill="#9c766b"/><rect x="719.64" y="30.8" width="31.54" height="14.67" fill="#ac897f"/><rect x="782.12" y="30.8" width="15.92" height="14.67" fill="#ac897f"/><rect x="797.74" y="30.8" width="31.54" height="14.67" fill="#a58076"/><rect x="828.98" y="30.8" width="31.54" height="14.67" fill="#9c766b"/><rect x="860.22" y="30.8" width="15.92" height="14.67" fill="#a58076"/><rect x="875.84" y="30.8" width="31.54" height="14.67" fill="#9c766b"/><rect x="907.08" y="30.8" width="31.54" height="14.67" fill="#a58076"/><rect x="938.32" y="30.8" width="15.92" height="14.67" fill="#9c766b"/><rect x="953.94" y="30.8" width="15.92" height="14.67" fill="#a58076"/><rect x="969.56" y="30.8" width="15.92" height="14.67" fill="#ac897f"/>
<rect x="688.4" y="45.17" width="15.92" height="14.67" fill="#ac897f"/><rect x="704.02" y="45.17" width="15.92" height="14.67" fill="#9c766b"/><rect x="719.64" y="45.17" width="31.54" height="14.67" fill="#ac897f"/><rect x="750.88" y="45.17" width="15.92" height="14.67" fill="#a58076"/><rect x="766.5" y="45.17" width="15.92" height="14.67" fill="#ac897f"/><rect x="797.74" y="45.17" width="15.92" height="14.67" fill="#a58076"/><rect x="813.36" y="45.17" width="31.54" height="14.67" fill="#9c766b"/><rect x="844.6" y="45.17" width="31.54" height="14.67" fill="#a58076"/><rect x="875.84" y="45.17" width="15.92" height="14.67" fill="#9c766b"/><rect x="891.46" y="45.17" width="15.92" height="14.67" fill="#b49389"/><rect x="907.08" y="45.17" width="31.54" height="14.67" fill="#a58076"/><rect x="938.32" y="45.17" width="15.92" height="14.67" fill="#ac897f"/><rect x="953.94" y="45.17" width="31.54" height="14.67" fill="#9c766b"/><rect x="985.18" y="45.17" width="15.92" height="14.67" fill="#ac897f"/>
<rect x="688.4" y="59.55" width="15.92" height="14.67" fill="#ac897f"/><rect x="704.02" y="59.55" width="15.92" height="14.67" fill="#9c766b"/><rect x="735.26" y="59.55" width="47.16" height="14.67" fill="#a58076"/><rect x="782.12" y="59.55" width="15.92" height="14.67" fill="#ac897f"/><rect x="797.74" y="59.55" width="47.16" height="14.67" fill="#a58076"/><rect x="844.6" y="59.55" width="15.92" height="14.67" fill="#ac897f"/><rect x="860.22" y="59.55" width="15.92" height="14.67" fill="#a58076"/><rect x="875.84" y="59.55" width="15.92" height="14.67" fill="#ac897f"/><rect x="891.46" y="59.55" width="15.92" height="14.67" fill="#a58076"/><rect x="907.08" y="59.55" width="31.54" height="14.67" fill="#9c766b"/><rect x="938.32" y="59.55" width="15.92" height="14.67" fill="#b49389"/><rect x="953.94" y="59.55" width="47.16" height="14.67" fill="#a58076"/>
<rect x="688.4" y="73.92" width="31.54" height="14.67" fill="#ac897f"/><rect x="719.64" y="73.92" width="15.92" height="14.67" fill="#9c766b"/><rect x="735.26" y="73.92" width="15.92" height="14.67" fill="#8b5c50"/><rect x="750.88" y="73.92" width="15.92" height="14.67" fill="#b49389"/><rect x="782.12" y="73.92" width="15.92" height="14.67" fill="#9c766b"/><rect x="797.74" y="73.92" width="15.92" height="14.67" fill="#a58076"/><rect x="813.36" y="73.92" width="31.54" height="14.67" fill="#9c766b"/><rect x="844.6" y="73.92" width="62.78" height="14.67" fill="#a58076"/><rect x="907.08" y="73.92" width="15.92" height="14.67" fill="#9c766b"/><rect x="922.7" y="73.92" width="62.78" height="14.67" fill="#ac897f"/><rect x="985.18" y="73.92" width="15.92" height="14.67" fill="#a58076"/>
<rect x="688.4" y="88.29" width="31.54" height="14.67" fill="#a58076"/><rect x="719.64" y="88.29" width="15.92" height="14.67" fill="#ac897f"/><rect x="735.26" y="88.29" width="15.92" height="14.67" fill="#936a5e"/><rect x="766.5" y="88.29" width="15.92" height="14.67" fill="#ac897f"/><rect x="782.12" y="88.29" width="15.92" height="14.67" fill="#a58076"/><rect x="797.74" y="88.29" width="15.92" height="14.67" fill="#ac897f"/><rect x="813.36" y="88.29" width="15.92" height="14.67" fill="#a58076"/><rect x="828.98" y="88.29" width="31.54" height="14.67" fill="#ac897f"/><rect x="860.22" y="88.29" width="47.16" height="14.67" fill="#a58076"/><rect x="907.08" y="88.29" width="15.92" height="14.67" fill="#ac897f"/><rect x="922.7" y="88.29" width="15.92" height="14.67" fill="#a58076"/><rect x="938.32" y="88.29" width="62.78" height="14.67" fill="#ac897f"/>
<rect x="750.88" y="102.67" width="31.54" height="14.67" fill="#a58076"/><rect x="782.12" y="102.67" width="15.92" height="14.67" fill="#9c766b"/><rect x="797.74" y="102.67" width="15.92" height="14.67" fill="#a58076"/><rect x="813.36" y="102.67" width="15.92" height="14.67" fill="#9c766b"/><rect x="828.98" y="102.67" width="15.92" height="14.67" fill="#a58076"/><rect x="844.6" y="102.67" width="15.92" height="14.67" fill="#9c766b"/><rect x="860.22" y="102.67" width="15.92" height="14.67" fill="#a58076"/><rect x="875.84" y="102.67" width="15.92" height="14.67" fill="#9c766b"/><rect x="891.46" y="102.67" width="15.92" height="14.67" fill="#a58076"/><rect x="907.08" y="102.67" width="15.92" height="14.67" fill="#8b5c50"/><rect x="922.7" y="102.67" width="15.92" height="14.67" fill="#b49389"/><rect x="938.32" y="102.67" width="47.16" height="14.67" fill="#ac897f"/>
<rect x="750.88" y="117.04" width="15.92" height="14.67" fill="#9c766b"/><rect x="766.5" y="117.04" width="31.54" height="14.67" fill="#a58076"/><rect x="797.74" y="117.04" width="15.92" height="14.67" fill="#ac897f"/><rect x="813.36" y="117.04" width="94.02" height="14.67" fill="#a58076"/><rect x="907.08" y="117.04" width="15.92" height="14.67" fill="#ac897f"/><rect x="922.7" y="117.04" width="31.54" height="14.67" fill="#a58076"/><rect x="953.94" y="117.04" width="31.54" height="14.67" fill="#ac897f"/>
<rect x="735.26" y="131.41" width="15.92" height="14.67" fill="#9c766b"/><rect x="750.88" y="131.41" width="31.54" height="14.67" fill="#a58076"/><rect x="782.12" y="131.41" width="47.16" height="14.67" fill="#ac897f"/><rect x="828.98" y="131.41" width="31.54" height="14.67" fill="#a58076"/><rect x="860.22" y="131.41" width="15.92" height="14.67" fill="#ac897f"/><rect x="875.84" y="131.41" width="47.16" height="14.67" fill="#a58076"/><rect x="922.7" y="131.41" width="31.54" height="14.67" fill="#9c766b"/><rect x="953.94" y="131.41" width="15.92" height="14.67" fill="#a58076"/><rect x="969.56" y="131.41" width="31.54" height="14.67" fill="#936a5e"/>
<rect x="735.26" y="145.79" width="15.92" height="14.67" fill="#9c766b"/><rect x="750.88" y="145.79" width="15.92" height="14.67" fill="#ac897f"/><rect x="766.5" y="145.79" width="15.92" height="14.67" fill="#a58076"/><rect x="782.12" y="145.79" width="15.92" height="14.67" fill="#b49389"/><rect x="797.74" y="145.79" width="15.92" height="14.67" fill="#a58076"/><rect x="844.6" y="145.79" width="31.54" height="14.67" fill="#9c766b"/><rect x="875.84" y="145.79" width="15.92" height="14.67" fill="#ac897f"/><rect x="891.46" y="145.79" width="31.54" height="14.67" fill="#a58076"/><rect x="922.7" y="145.79" width="15.92" height="14.67" fill="#ac897f"/><rect x="938.32" y="145.79" width="31.54" height="14.67" fill="#a58076"/><rect x="969.56" y="145.79" width="31.54" height="14.67" fill="#9c766b"/>
<rect x="735.26" y="160.16" width="15.92" height="14.67" fill="#a58076"/><rect x="750.88" y="160.16" width="62.78" height="14.67" fill="#ac897f"/><rect x="828.98" y="160.16" width="15.92" height="14.67" fill="#ac897f"/><rect x="844.6" y="160.16" width="15.92" height="14.67" fill="#a58076"/><rect x="860.22" y="160.16" width="31.54" height="14.67" fill="#ac897f"/><rect x="891.46" y="160.16" width="15.92" height="14.67" fill="#a58076"/><rect x="907.08" y="160.16" width="15.92" height="14.67" fill="#9c766b"/><rect x="922.7" y="160.16" width="31.54" height="14.67" fill="#ac897f"/><rect x="953.94" y="160.16" width="15.92" height="14.67" fill="#9c766b"/>
<rect x="735.26" y="174.53" width="78.4" height="14.67" fill="#a58076"/><rect x="828.98" y="174.53" width="15.92" height="14.67" fill="#9c766b"/><rect x="844.6" y="174.53" width="31.54" height="14.67" fill="#a58076"/><rect x="875.84" y="174.53" width="15.92" height="14.67" fill="#936a5e"/><rect x="891.46" y="174.53" width="15.92" height="14.67" fill="#a58076"/><rect x="907.08" y="174.53" width="15.92" height="14.67" fill="#ac897f"/>
<rect x="766.5" y="188.91" width="31.54" height="14.67" fill="#a58076"/><rect x="797.74" y="188.91" width="15.92" height="14.67" fill="#ac897f"/><rect x="813.36" y="188.91" width="15.92" height="14.67" fill="#9c766b"/><rect x="828.98" y="188.91" width="31.54" height="14.67" fill="#a58076"/><rect x="860.22" y="188.91" width="15.92" height="14.67" fill="#ac897f"/><rect x="875.84" y="188.91" width="31.54" height="14.67" fill="#a58076"/>
<rect x="782.12" y="203.28" width="15.92" height="14.67" fill="#ac897f"/><rect x="813.36" y="203.28" width="15.92" height="14.67" fill="#9c766b"/><rect x="828.98" y="203.28" width="31.54" height="14.67" fill="#a58076"/><rect x="860.22" y="203.28" width="15.92" height="14.67" fill="#ac897f"/>
<rect x="813.36" y="217.65" width="15.92" height="14.67" fill="#8b5c50"/><rect x="828.98" y="217.65" width="15.92" height="14.67" fill="#ac897f"/><rect x="844.6" y="217.65" width="15.92" height="14.67" fill="#b49389"/><rect x="860.22" y="217.65" width="15.92" height="14.67" fill="#a58076"/>
<rect x="844.6" y="232.03" width="15.92" height="14.67" fill="#936a5e"/>
</g>
<rect x="688.4" y="30.8" width="312.4" height="215.6" fill="none" stroke="#1a1a1a" stroke-width="1.3"/>
<g shape-rendering="crispEdges">
<rect x="1006.1" y="30.8" width="15.8" height="14.67" fill="#d7f58f"/><rect x="1021.6" y="30.8" width="15.8" height="14.67" fill="#abed88"/><rect x="1037.1" y="30.8" width="15.8" height="14.67" fill="#ebf893"/><rect x="1052.6" y="30.8" width="15.8" height="14.67" fill="#d7f58f"/><rect x="1099.1" y="30.8" width="15.8" height="14.67" fill="#d7f58f"/><rect x="1114.6" y="30.8" width="15.8" height="14.67" fill="#c1f18b"/><rect x="1130.1" y="30.8" width="15.8" height="14.67" fill="#d7f58f"/><rect x="1145.6" y="30.8" width="31.3" height="14.67" fill="#abed88"/><rect x="1176.6" y="30.8" width="31.3" height="14.67" fill="#c1f18b"/><rect x="1207.6" y="30.8" width="15.8" height="14.67" fill="#90e784"/><rect x="1223.1" y="30.8" width="31.3" height="14.67" fill="#c1f18b"/><rect x="1254.1" y="30.8" width="15.8" height="14.67" fill="#abed88"/><rect x="1269.6" y="30.8" width="15.8" height="14.67" fill="#c1f18b"/><rect x="1285.1" y="30.8" width="15.8" height="14.67" fill="#d7f58f"/>
<rect x="1006.1" y="45.17" width="15.8" height="14.67" fill="#ebf893"/><rect x="1021.6" y="45.17" width="15.8" height="14.67" fill="#abed88"/><rect x="1037.1" y="45.17" width="62.3" height="14.67" fill="#d7f58f"/><rect x="1114.6" y="45.17" width="15.8" height="14.67" fill="#d7f58f"/><rect x="1130.1" y="45.17" width="31.3" height="14.67" fill="#abed88"/><rect x="1161.1" y="45.17" width="15.8" height="14.67" fill="#c1f18b"/><rect x="1176.6" y="45.17" width="15.8" height="14.67" fill="#d7f58f"/><rect x="1192.1" y="45.17" width="15.8" height="14.67" fill="#abed88"/><rect x="1207.6" y="45.17" width="15.8" height="14.67" fill="#f6fb98"/><rect x="1223.1" y="45.17" width="15.8" height="14.67" fill="#c1f18b"/><rect x="1238.6" y="45.17" width="31.3" height="14.67" fill="#d7f58f"/><rect x="1269.6" y="45.17" width="31.3" height="14.67" fill="#abed88"/><rect x="1300.6" y="45.17" width="15.8" height="14.67" fill="#d7f58f"/>
<rect x="1006.1" y="59.55" width="15.8" height="14.67" fill="#ebf893"/><rect x="1021.6" y="59.55" width="15.8" height="14.67" fill="#90e784"/><rect x="1052.6" y="59.55" width="15.8" height="14.67" fill="#c1f18b"/><rect x="1068.1" y="59.55" width="93.3" height="14.67" fill="#d7f58f"/><rect x="1161.1" y="59.55" width="15.8" height="14.67" fill="#ebf893"/><rect x="1176.6" y="59.55" width="15.8" height="14.67" fill="#c1f18b"/><rect x="1192.1" y="59.55" width="15.8" height="14.67" fill="#d7f58f"/><rect x="1207.6" y="59.55" width="46.8" height="14.67" fill="#abed88"/><rect x="1254.1" y="59.55" width="15.8" height="14.67" fill="#f6fb98"/><rect x="1269.6" y="59.55" width="15.8" height="14.67" fill="#abed88"/><rect x="1285.1" y="59.55" width="15.8" height="14.67" fill="#d7f58f"/><rect x="1300.6" y="59.55" width="15.8" height="14.67" fill="#abed88"/>
<rect x="1006.1" y="73.92" width="15.8" height="14.67" fill="#f6fb98"/><rect x="1021.6" y="73.92" width="15.8" height="14.67" fill="#d7f58f"/><rect x="1037.1" y="73.92" width="15.8" height="14.67" fill="#abed88"/><rect x="1052.6" y="73.92" width="15.8" height="14.67" fill="#76e07f"/><rect x="1068.1" y="73.92" width="15.8" height="14.67" fill="#ebf893"/><rect x="1099.1" y="73.92" width="15.8" height="14.67" fill="#abed88"/><rect x="1114.6" y="73.92" width="15.8" height="14.67" fill="#c1f18b"/><rect x="1130.1" y="73.92" width="31.3" height="14.67" fill="#abed88"/><rect x="1161.1" y="73.92" width="15.8" height="14.67" fill="#c1f18b"/><rect x="1176.6" y="73.92" width="15.8" height="14.67" fill="#d7f58f"/><rect x="1192.1" y="73.92" width="46.8" height="14.67" fill="#abed88"/><rect x="1238.6" y="73.92" width="15.8" height="14.67" fill="#d7f58f"/><rect x="1254.1" y="73.92" width="15.8" height="14.67" fill="#f6fb98"/><rect x="1269.6" y="73.92" width="15.8" height="14.67" fill="#ebf893"/><rect x="1285.1" y="73.92" width="31.3" height="14.67" fill="#d7f58f"/>
<rect x="1006.1" y="88.29" width="31.3" height="14.67" fill="#c1f18b"/><rect x="1037.1" y="88.29" width="15.8" height="14.67" fill="#d7f58f"/><rect x="1052.6" y="88.29" width="15.8" height="14.67" fill="#90e784"/><rect x="1083.6" y="88.29" width="15.8" height="14.67" fill="#d7f58f"/><rect x="1099.1" y="88.29" width="15.8" height="14.67" fill="#c1f18b"/><rect x="1114.6" y="88.29" width="15.8" height="14.67" fill="#ebf893"/><rect x="1130.1" y="88.29" width="15.8" height="14.67" fill="#c1f18b"/><rect x="1145.6" y="88.29" width="31.3" height="14.67" fill="#d7f58f"/><rect x="1176.6" y="88.29" width="15.8" height="14.67" fill="#c1f18b"/><rect x="1192.1" y="88.29" width="15.8" height="14.67" fill="#abed88"/><rect x="1207.6" y="88.29" width="15.8" height="14.67" fill="#c1f18b"/><rect x="1223.1" y="88.29" width="15.8" height="14.67" fill="#d7f58f"/><rect x="1238.6" y="88.29" width="15.8" height="14.67" fill="#c1f18b"/><rect x="1254.1" y="88.29" width="46.8" height="14.67" fill="#ebf893"/><rect x="1300.6" y="88.29" width="15.8" height="14.67" fill="#d7f58f"/>
<rect x="1068.1" y="102.67" width="15.8" height="14.67" fill="#c1f18b"/><rect x="1083.6" y="102.67" width="31.3" height="14.67" fill="#abed88"/><rect x="1114.6" y="102.67" width="15.8" height="14.67" fill="#c1f18b"/><rect x="1130.1" y="102.67" width="15.8" height="14.67" fill="#90e784"/><rect x="1145.6" y="102.67" width="15.8" height="14.67" fill="#c1f18b"/><rect x="1161.1" y="102.67" width="31.3" height="14.67" fill="#abed88"/><rect x="1192.1" y="102.67" width="15.8" height="14.67" fill="#90e784"/><rect x="1207.6" y="102.67" width="15.8" height="14.67" fill="#abed88"/><rect x="1223.1" y="102.67" width="15.8" height="14.67" fill="#76e07f"/><rect x="1238.6" y="102.67" width="15.8" height="14.67" fill="#f6fb98"/><rect x="1254.1" y="102.67" width="46.8" height="14.67" fill="#ebf893"/>
<rect x="1068.1" y="117.04" width="15.8" height="14.67" fill="#abed88"/><rect x="1083.6" y="117.04" width="15.8" height="14.67" fill="#d7f58f"/><rect x="1099.1" y="117.04" width="15.8" height="14.67" fill="#abed88"/><rect x="1114.6" y="117.04" width="15.8" height="14.67" fill="#d7f58f"/><rect x="1130.1" y="117.04" width="31.3" height="14.67" fill="#c1f18b"/><rect x="1161.1" y="117.04" width="15.8" height="14.67" fill="#d7f58f"/><rect x="1176.6" y="117.04" width="31.3" height="14.67" fill="#c1f18b"/><rect x="1207.6" y="117.04" width="15.8" height="14.67" fill="#d7f58f"/><rect x="1223.1" y="117.04" width="15.8" height="14.67" fill="#ebf893"/><rect x="1238.6" y="117.04" width="15.8" height="14.67" fill="#c1f18b"/><rect x="1254.1" y="117.04" width="31.3" height="14.67" fill="#d7f58f"/><rect x="1285.1" y="117.04" width="15.8" height="14.67" fill="#ebf893"/>
<rect x="1052.6" y="131.41" width="15.8" height="14.67" fill="#abed88"/><rect x="1068.1" y="131.41" width="31.3" height="14.67" fill="#c1f18b"/><rect x="1099.1" y="131.41" width="15.8" height="14.67" fill="#ebf893"/><rect x="1114.6" y="131.41" width="31.3" height="14.67" fill="#d7f58f"/><rect x="1145.6" y="131.41" width="15.8" height="14.67" fill="#c1f18b"/><rect x="1161.1" y="131.41" width="15.8" height="14.67" fill="#abed88"/><rect x="1176.6" y="131.41" width="15.8" height="14.67" fill="#c1f18b"/><rect x="1192.1" y="131.41" width="15.8" height="14.67" fill="#abed88"/><rect x="1207.6" y="131.41" width="15.8" height="14.67" fill="#c1f18b"/><rect x="1223.1" y="131.41" width="15.8" height="14.67" fill="#d7f58f"/><rect x="1238.6" y="131.41" width="31.3" height="14.67" fill="#abed88"/><rect x="1269.6" y="131.41" width="15.8" height="14.67" fill="#d7f58f"/><rect x="1285.1" y="131.41" width="15.8" height="14.67" fill="#76e07f"/><rect x="1300.6" y="131.41" width="15.8" height="14.67" fill="#abed88"/>
<rect x="1052.6" y="145.79" width="15.8" height="14.67" fill="#abed88"/><rect x="1068.1" y="145.79" width="15.8" height="14.67" fill="#d7f58f"/><rect x="1083.6" y="145.79" width="15.8" height="14.67" fill="#c1f18b"/><rect x="1099.1" y="145.79" width="15.8" height="14.67" fill="#f6fb98"/><rect x="1114.6" y="145.79" width="15.8" height="14.67" fill="#d7f58f"/><rect x="1161.1" y="145.79" width="31.3" height="14.67" fill="#abed88"/><rect x="1192.1" y="145.79" width="31.3" height="14.67" fill="#d7f58f"/><rect x="1223.1" y="145.79" width="15.8" height="14.67" fill="#abed88"/><rect x="1238.6" y="145.79" width="15.8" height="14.67" fill="#d7f58f"/><rect x="1254.1" y="145.79" width="31.3" height="14.67" fill="#abed88"/><rect x="1285.1" y="145.79" width="15.8" height="14.67" fill="#90e784"/><rect x="1300.6" y="145.79" width="15.8" height="14.67" fill="#abed88"/>
<rect x="1052.6" y="160.16" width="15.8" height="14.67" fill="#d7f58f"/><rect x="1068.1" y="160.16" width="15.8" height="14.67" fill="#ebf893"/><rect x="1083.6" y="160.16" width="15.8" height="14.67" fill="#d7f58f"/><rect x="1099.1" y="160.16" width="31.3" height="14.67" fill="#ebf893"/><rect x="1145.6" y="160.16" width="15.8" height="14.67" fill="#d7f58f"/><rect x="1161.1" y="160.16" width="15.8" height="14.67" fill="#abed88"/><rect x="1176.6" y="160.16" width="15.8" height="14.67" fill="#c1f18b"/><rect x="1192.1" y="160.16" width="15.8" height="14.67" fill="#d7f58f"/><rect x="1207.6" y="160.16" width="31.3" height="14.67" fill="#abed88"/><rect x="1238.6" y="160.16" width="15.8" height="14.67" fill="#ebf893"/><rect x="1254.1" y="160.16" width="15.8" height="14.67" fill="#d7f58f"/><rect x="1269.6" y="160.16" width="15.8" height="14.67" fill="#abed88"/>
<rect x="1052.6" y="174.53" width="31.3" height="14.67" fill="#c1f18b"/><rect x="1083.6" y="174.53" width="46.8" height="14.67" fill="#d7f58f"/><rect x="1145.6" y="174.53" width="15.8" height="14.67" fill="#abed88"/><rect x="1161.1" y="174.53" width="15.8" height="14.67" fill="#c1f18b"/><rect x="1176.6" y="174.53" width="15.8" height="14.67" fill="#abed88"/><rect x="1192.1" y="174.53" width="15.8" height="14.67" fill="#90e784"/><rect x="1207.6" y="174.53" width="15.8" height="14.67" fill="#abed88"/><rect x="1223.1" y="174.53" width="15.8" height="14.67" fill="#d7f58f"/>
<rect x="1083.6" y="188.91" width="31.3" height="14.67" fill="#c1f18b"/><rect x="1114.6" y="188.91" width="15.8" height="14.67" fill="#ebf893"/><rect x="1130.1" y="188.91" width="15.8" height="14.67" fill="#abed88"/><rect x="1145.6" y="188.91" width="15.8" height="14.67" fill="#c1f18b"/><rect x="1161.1" y="188.91" width="15.8" height="14.67" fill="#abed88"/><rect x="1176.6" y="188.91" width="15.8" height="14.67" fill="#ebf893"/><rect x="1192.1" y="188.91" width="15.8" height="14.67" fill="#abed88"/><rect x="1207.6" y="188.91" width="15.8" height="14.67" fill="#c1f18b"/>
<rect x="1099.1" y="203.28" width="15.8" height="14.67" fill="#ebf893"/><rect x="1130.1" y="203.28" width="15.8" height="14.67" fill="#90e784"/><rect x="1145.6" y="203.28" width="31.3" height="14.67" fill="#abed88"/><rect x="1176.6" y="203.28" width="15.8" height="14.67" fill="#ebf893"/>
<rect x="1130.1" y="217.65" width="15.8" height="14.67" fill="#38d16f"/><rect x="1145.6" y="217.65" width="15.8" height="14.67" fill="#abed88"/><rect x="1161.1" y="217.65" width="15.8" height="14.67" fill="#d7f58f"/><rect x="1176.6" y="217.65" width="15.8" height="14.67" fill="#abed88"/>
<rect x="1161.1" y="232.03" width="15.8" height="14.67" fill="#76e07f"/>
</g>
<rect x="1006.1" y="30.8" width="310" height="215.6" fill="none" stroke="#1a1a1a" stroke-width="1.3"/>
<g shape-rendering="crispEdges">
<rect x="1319.6" y="30.8" width="15.95" height="14.67" fill="#cdf48d"/><rect x="1335.25" y="30.8" width="15.95" height="14.67" fill="#a5ec87"/><rect x="1350.9" y="30.8" width="15.95" height="14.67" fill="#e2f791"/><rect x="1366.55" y="30.8" width="15.95" height="14.67" fill="#cdf48d"/><rect x="1413.5" y="30.8" width="15.95" height="14.67" fill="#cdf48d"/><rect x="1429.15" y="30.8" width="15.95" height="14.67" fill="#b8ef89"/><rect x="1444.8" y="30.8" width="15.95" height="14.67" fill="#cdf48d"/><rect x="1460.45" y="30.8" width="31.6" height="14.67" fill="#a5ec87"/><rect x="1491.75" y="30.8" width="31.6" height="14.67" fill="#b8ef89"/><rect x="1523.05" y="30.8" width="15.95" height="14.67" fill="#8de683"/><rect x="1538.7" y="30.8" width="31.6" height="14.67" fill="#b8ef89"/><rect x="1570" y="30.8" width="15.95" height="14.67" fill="#a5ec87"/><rect x="1585.65" y="30.8" width="15.95" height="14.67" fill="#b8ef89"/><rect x="1601.3" y="30.8" width="15.95" height="14.67" fill="#cdf48d"/>
<rect x="1319.6" y="45.17" width="15.95" height="14.67" fill="#e2f791"/><rect x="1335.25" y="45.17" width="15.95" height="14.67" fill="#a5ec87"/><rect x="1350.9" y="45.17" width="62.9" height="14.67" fill="#cdf48d"/><rect x="1429.15" y="45.17" width="15.95" height="14.67" fill="#cdf48d"/><rect x="1444.8" y="45.17" width="31.6" height="14.67" fill="#a5ec87"/><rect x="1476.1" y="45.17" width="15.95" height="14.67" fill="#b8ef89"/><rect x="1491.75" y="45.17" width="15.95" height="14.67" fill="#cdf48d"/><rect x="1507.4" y="45.17" width="15.95" height="14.67" fill="#a5ec87"/><rect x="1523.05" y="45.17" width="15.95" height="14.67" fill="#f2fa96"/><rect x="1538.7" y="45.17" width="15.95" height="14.67" fill="#b8ef89"/><rect x="1554.35" y="45.17" width="31.6" height="14.67" fill="#cdf48d"/><rect x="1585.65" y="45.17" width="31.6" height="14.67" fill="#a5ec87"/><rect x="1616.95" y="45.17" width="15.95" height="14.67" fill="#cdf48d"/>
<rect x="1319.6" y="59.55" width="15.95" height="14.67" fill="#e2f791"/><rect x="1335.25" y="59.55" width="15.95" height="14.67" fill="#8de683"/><rect x="1366.55" y="59.55" width="15.95" height="14.67" fill="#b8ef89"/><rect x="1382.2" y="59.55" width="94.2" height="14.67" fill="#cdf48d"/><rect x="1476.1" y="59.55" width="15.95" height="14.67" fill="#e2f791"/><rect x="1491.75" y="59.55" width="15.95" height="14.67" fill="#b8ef89"/><rect x="1507.4" y="59.55" width="15.95" height="14.67" fill="#cdf48d"/><rect x="1523.05" y="59.55" width="47.25" height="14.67" fill="#a5ec87"/><rect x="1570" y="59.55" width="15.95" height="14.67" fill="#f2fa96"/><rect x="1585.65" y="59.55" width="15.95" height="14.67" fill="#a5ec87"/><rect x="1601.3" y="59.55" width="15.95" height="14.67" fill="#cdf48d"/><rect x="1616.95" y="59.55" width="15.95" height="14.67" fill="#a5ec87"/>
<rect x="1319.6" y="73.92" width="15.95" height="14.67" fill="#f2fa96"/><rect x="1335.25" y="73.92" width="15.95" height="14.67" fill="#cdf48d"/><rect x="1350.9" y="73.92" width="15.95" height="14.67" fill="#a5ec87"/><rect x="1366.55" y="73.92" width="15.95" height="14.67" fill="#72df7e"/><rect x="1382.2" y="73.92" width="15.95" height="14.67" fill="#e2f791"/><rect x="1413.5" y="73.92" width="15.95" height="14.67" fill="#a5ec87"/><rect x="1429.15" y="73.92" width="15.95" height="14.67" fill="#b8ef89"/><rect x="1444.8" y="73.92" width="31.6" height="14.67" fill="#a5ec87"/><rect x="1476.1" y="73.92" width="15.95" height="14.67" fill="#b8ef89"/><rect x="1491.75" y="73.92" width="15.95" height="14.67" fill="#cdf48d"/><rect x="1507.4" y="73.92" width="47.25" height="14.67" fill="#a5ec87"/><rect x="1554.35" y="73.92" width="15.95" height="14.67" fill="#cdf48d"/><rect x="1570" y="73.92" width="15.95" height="14.67" fill="#f2fa96"/><rect x="1585.65" y="73.92" width="15.95" height="14.67" fill="#e2f791"/><rect x="1601.3" y="73.92" width="31.6" height="14.67" fill="#cdf48d"/>
<rect x="1319.6" y="88.29" width="31.6" height="14.67" fill="#b8ef89"/><rect x="1350.9" y="88.29" width="15.95" height="14.67" fill="#cdf48d"/><rect x="1366.55" y="88.29" width="15.95" height="14.67" fill="#8de683"/><rect x="1397.85" y="88.29" width="15.95" height="14.67" fill="#cdf48d"/><rect x="1413.5" y="88.29" width="15.95" height="14.67" fill="#b8ef89"/><rect x="1429.15" y="88.29" width="15.95" height="14.67" fill="#e2f791"/><rect x="1444.8" y="88.29" width="15.95" height="14.67" fill="#b8ef89"/><rect x="1460.45" y="88.29" width="31.6" height="14.67" fill="#cdf48d"/><rect x="1491.75" y="88.29" width="15.95" height="14.67" fill="#b8ef89"/><rect x="1507.4" y="88.29" width="15.95" height="14.67" fill="#a5ec87"/><rect x="1523.05" y="88.29" width="15.95" height="14.67" fill="#b8ef89"/><rect x="1538.7" y="88.29" width="15.95" height="14.67" fill="#cdf48d"/><rect x="1554.35" y="88.29" width="15.95" height="14.67" fill="#b8ef89"/><rect x="1570" y="88.29" width="31.6" height="14.67" fill="#e2f791"/><rect x="1601.3" y="88.29" width="15.95" height="14.67" fill="#f2fa96"/><rect x="1616.95" y="88.29" width="15.95" height="14.67" fill="#cdf48d"/>
<rect x="1382.2" y="102.67" width="15.95" height="14.67" fill="#b8ef89"/><rect x="1397.85" y="102.67" width="31.6" height="14.67" fill="#a5ec87"/><rect x="1429.15" y="102.67" width="15.95" height="14.67" fill="#b8ef89"/><rect x="1444.8" y="102.67" width="15.95" height="14.67" fill="#8de683"/><rect x="1460.45" y="102.67" width="15.95" height="14.67" fill="#b8ef89"/><rect x="1476.1" y="102.67" width="31.6" height="14.67" fill="#a5ec87"/><rect x="1507.4" y="102.67" width="15.95" height="14.67" fill="#8de683"/><rect x="1523.05" y="102.67" width="15.95" height="14.67" fill="#a5ec87"/><rect x="1538.7" y="102.67" width="15.95" height="14.67" fill="#72df7e"/><rect x="1554.35" y="102.67" width="15.95" height="14.67" fill="#f2fa96"/><rect x="1570" y="102.67" width="47.25" height="14.67" fill="#e2f791"/>
<rect x="1382.2" y="117.04" width="15.95" height="14.67" fill="#a5ec87"/><rect x="1397.85" y="117.04" width="15.95" height="14.67" fill="#cdf48d"/><rect x="1413.5" y="117.04" width="15.95" height="14.67" fill="#a5ec87"/><rect x="1429.15" y="117.04" width="15.95" height="14.67" fill="#cdf48d"/><rect x="1444.8" y="117.04" width="31.6" height="14.67" fill="#b8ef89"/><rect x="1476.1" y="117.04" width="15.95" height="14.67" fill="#cdf48d"/><rect x="1491.75" y="117.04" width="31.6" height="14.67" fill="#b8ef89"/><rect x="1523.05" y="117.04" width="15.95" height="14.67" fill="#cdf48d"/><rect x="1538.7" y="117.04" width="15.95" height="14.67" fill="#e2f791"/><rect x="1554.35" y="117.04" width="15.95" height="14.67" fill="#b8ef89"/><rect x="1570" y="117.04" width="31.6" height="14.67" fill="#cdf48d"/><rect x="1601.3" y="117.04" width="15.95" height="14.67" fill="#e2f791"/>
<rect x="1366.55" y="131.41" width="15.95" height="14.67" fill="#a5ec87"/><rect x="1382.2" y="131.41" width="31.6" height="14.67" fill="#b8ef89"/><rect x="1413.5" y="131.41" width="15.95" height="14.67" fill="#e2f791"/><rect x="1429.15" y="131.41" width="31.6" height="14.67" fill="#cdf48d"/><rect x="1460.45" y="131.41" width="15.95" height="14.67" fill="#b8ef89"/><rect x="1476.1" y="131.41" width="15.95" height="14.67" fill="#a5ec87"/><rect x="1491.75" y="131.41" width="15.95" height="14.67" fill="#b8ef89"/><rect x="1507.4" y="131.41" width="15.95" height="14.67" fill="#a5ec87"/><rect x="1523.05" y="131.41" width="15.95" height="14.67" fill="#b8ef89"/><rect x="1538.7" y="131.41" width="15.95" height="14.67" fill="#cdf48d"/><rect x="1554.35" y="131.41" width="31.6" height="14.67" fill="#a5ec87"/><rect x="1585.65" y="131.41" width="15.95" height="14.67" fill="#cdf48d"/><rect x="1601.3" y="131.41" width="15.95" height="14.67" fill="#72df7e"/><rect x="1616.95" y="131.41" width="15.95" height="14.67" fill="#a5ec87"/>
<rect x="1366.55" y="145.79" width="15.95" height="14.67" fill="#a5ec87"/><rect x="1382.2" y="145.79" width="15.95" height="14.67" fill="#cdf48d"/><rect x="1397.85" y="145.79" width="15.95" height="14.67" fill="#b8ef89"/><rect x="1413.5" y="145.79" width="15.95" height="14.67" fill="#f2fa96"/><rect x="1429.15" y="145.79" width="15.95" height="14.67" fill="#cdf48d"/><rect x="1476.1" y="145.79" width="31.6" height="14.67" fill="#a5ec87"/><rect x="1507.4" y="145.79" width="31.6" height="14.67" fill="#cdf48d"/><rect x="1538.7" y="145.79" width="15.95" height="14.67" fill="#a5ec87"/><rect x="1554.35" y="145.79" width="15.95" height="14.67" fill="#cdf48d"/><rect x="1570" y="145.79" width="31.6" height="14.67" fill="#a5ec87"/><rect x="1601.3" y="145.79" width="15.95" height="14.67" fill="#8de683"/><rect x="1616.95" y="145.79" width="15.95" height="14.67" fill="#a5ec87"/>
<rect x="1366.55" y="160.16" width="15.95" height="14.67" fill="#cdf48d"/><rect x="1382.2" y="160.16" width="15.95" height="14.67" fill="#e2f791"/><rect x="1397.85" y="160.16" width="15.95" height="14.67" fill="#cdf48d"/><rect x="1413.5" y="160.16" width="31.6" height="14.67" fill="#e2f791"/><rect x="1460.45" y="160.16" width="15.95" height="14.67" fill="#cdf48d"/><rect x="1476.1" y="160.16" width="15.95" height="14.67" fill="#a5ec87"/><rect x="1491.75" y="160.16" width="15.95" height="14.67" fill="#b8ef89"/><rect x="1507.4" y="160.16" width="15.95" height="14.67" fill="#cdf48d"/><rect x="1523.05" y="160.16" width="31.6" height="14.67" fill="#a5ec87"/><rect x="1554.35" y="160.16" width="15.95" height="14.67" fill="#e2f791"/><rect x="1570" y="160.16" width="15.95" height="14.67" fill="#cdf48d"/><rect x="1585.65" y="160.16" width="15.95" height="14.67" fill="#a5ec87"/>
<rect x="1366.55" y="174.53" width="31.6" height="14.67" fill="#b8ef89"/><rect x="1397.85" y="174.53" width="47.25" height="14.67" fill="#cdf48d"/><rect x="1460.45" y="174.53" width="15.95" height="14.67" fill="#a5ec87"/><rect x="1476.1" y="174.53" width="15.95" height="14.67" fill="#b8ef89"/><rect x="1491.75" y="174.53" width="15.95" height="14.67" fill="#a5ec87"/><rect x="1507.4" y="174.53" width="15.95" height="14.67" fill="#8de683"/><rect x="1523.05" y="174.53" width="15.95" height="14.67" fill="#a5ec87"/><rect x="1538.7" y="174.53" width="15.95" height="14.67" fill="#cdf48d"/>
<rect x="1397.85" y="188.91" width="31.6" height="14.67" fill="#b8ef89"/><rect x="1429.15" y="188.91" width="15.95" height="14.67" fill="#e2f791"/><rect x="1444.8" y="188.91" width="15.95" height="14.67" fill="#a5ec87"/><rect x="1460.45" y="188.91" width="15.95" height="14.67" fill="#b8ef89"/><rect x="1476.1" y="188.91" width="15.95" height="14.67" fill="#a5ec87"/><rect x="1491.75" y="188.91" width="15.95" height="14.67" fill="#e2f791"/><rect x="1507.4" y="188.91" width="15.95" height="14.67" fill="#a5ec87"/><rect x="1523.05" y="188.91" width="15.95" height="14.67" fill="#b8ef89"/>
<rect x="1413.5" y="203.28" width="15.95" height="14.67" fill="#e2f791"/><rect x="1444.8" y="203.28" width="15.95" height="14.67" fill="#8de683"/><rect x="1460.45" y="203.28" width="31.6" height="14.67" fill="#a5ec87"/><rect x="1491.75" y="203.28" width="15.95" height="14.67" fill="#e2f791"/>
<rect x="1444.8" y="217.65" width="15.95" height="14.67" fill="#8de683"/><rect x="1460.45" y="217.65" width="15.95" height="14.67" fill="#a5ec87"/><rect x="1476.1" y="217.65" width="15.95" height="14.67" fill="#cdf48d"/><rect x="1491.75" y="217.65" width="15.95" height="14.67" fill="#a5ec87"/>
<rect x="1476.1" y="232.03" width="15.95" height="14.67" fill="#72df7e"/>
</g>
<rect x="1319.6" y="30.8" width="313" height="215.6" fill="none" stroke="#1a1a1a" stroke-width="1.3"/>
<g shape-rendering="crispEdges">
<rect x="688.4" y="287.6" width="15.92" height="14.69" fill="#0000d6"/><rect x="704.02" y="287.6" width="15.92" height="14.69" fill="#0000e3"/><rect x="719.64" y="287.6" width="15.92" height="14.69" fill="#0000e6"/><rect x="735.26" y="287.6" width="15.92" height="14.69" fill="#0000fc"/><rect x="782.12" y="287.6" width="15.92" height="14.69" fill="#0000f8"/><rect x="797.74" y="287.6" width="15.92" height="14.69" fill="#0000da"/><rect x="813.36" y="287.6" width="15.92" height="14.69" fill="#0000de"/><rect x="828.98" y="287.6" width="15.92" height="14.69" fill="#0000e8"/><rect x="844.6" y="287.6" width="15.92" height="14.69" fill="#0000e0"/><rect x="860.22" y="287.6" width="15.92" height="14.69" fill="#0000e3"/><rect x="875.84" y="287.6" width="15.92" height="14.69" fill="#0000e8"/><rect x="891.46" y="287.6" width="15.92" height="14.69" fill="#0000e0"/><rect x="907.08" y="287.6" width="15.92" height="14.69" fill="#0000d3"/><rect x="922.7" y="287.6" width="15.92" height="14.69" fill="#0000f8"/><rect x="938.32" y="287.6" width="15.92" height="14.69" fill="#0000e8"/><rect x="953.94" y="287.6" width="15.92" height="14.69" fill="#0000e2"/><rect x="969.56" y="287.6" width="15.92" height="14.69" fill="#0000e8"/>
<rect x="688.4" y="301.99" width="15.92" height="14.69" fill="#0000f8"/><rect x="704.02" y="301.99" width="15.92" height="14.69" fill="#0707ff"/><rect x="719.64" y="301.99" width="15.92" height="14.69" fill="#0000f8"/><rect x="735.26" y="301.99" width="15.92" height="14.69" fill="#0000e7"/><rect x="750.88" y="301.99" width="15.92" height="14.69" fill="#0000e2"/><rect x="766.5" y="301.99" width="15.92" height="14.69" fill="#0000db"/><rect x="797.74" y="301.99" width="15.92" height="14.69" fill="#0000e7"/><rect x="813.36" y="301.99" width="15.92" height="14.69" fill="#0000e5"/><rect x="828.98" y="301.99" width="15.92" height="14.69" fill="#0000de"/><rect x="844.6" y="301.99" width="15.92" height="14.69" fill="#0000d9"/><rect x="860.22" y="301.99" width="15.92" height="14.69" fill="#0000df"/><rect x="875.84" y="301.99" width="15.92" height="14.69" fill="#0000e2"/><rect x="891.46" y="301.99" width="15.92" height="14.69" fill="#0000d8"/><rect x="907.08" y="301.99" width="15.92" height="14.69" fill="#0000e8"/><rect x="922.7" y="301.99" width="15.92" height="14.69" fill="#0000da"/><rect x="938.32" y="301.99" width="15.92" height="14.69" fill="#0000e4"/><rect x="953.94" y="301.99" width="15.92" height="14.69" fill="#0000e6"/><rect x="969.56" y="301.99" width="15.92" height="14.69" fill="#0000b8"/><rect x="985.18" y="301.99" width="15.92" height="14.69" fill="#0000e7"/>
<rect x="688.4" y="316.39" width="15.92" height="14.69" fill="#0000d6"/><rect x="704.02" y="316.39" width="15.92" height="14.69" fill="#0000cc"/><rect x="735.26" y="316.39" width="15.92" height="14.69" fill="#0000da"/><rect x="750.88" y="316.39" width="15.92" height="14.69" fill="#0000e4"/><rect x="766.5" y="316.39" width="15.92" height="14.69" fill="#0000db"/><rect x="782.12" y="316.39" width="15.92" height="14.69" fill="#0000be"/><rect x="797.74" y="316.39" width="15.92" height="14.69" fill="#0000e6"/><rect x="813.36" y="316.39" width="15.92" height="14.69" fill="#0000df"/><rect x="828.98" y="316.39" width="15.92" height="14.69" fill="#0000de"/><rect x="844.6" y="316.39" width="15.92" height="14.69" fill="#0000e3"/><rect x="860.22" y="316.39" width="15.92" height="14.69" fill="#0000e0"/><rect x="875.84" y="316.39" width="31.54" height="14.69" fill="#0000e8"/><rect x="907.08" y="316.39" width="15.92" height="14.69" fill="#0000e5"/><rect x="922.7" y="316.39" width="15.92" height="14.69" fill="#0000dd"/><rect x="938.32" y="316.39" width="15.92" height="14.69" fill="#0000e2"/><rect x="953.94" y="316.39" width="15.92" height="14.69" fill="#0000e4"/><rect x="969.56" y="316.39" width="15.92" height="14.69" fill="#0000df"/><rect x="985.18" y="316.39" width="15.92" height="14.69" fill="#0000e1"/>
<rect x="688.4" y="330.78" width="15.92" height="14.69" fill="#0000e4"/><rect x="704.02" y="330.78" width="15.92" height="14.69" fill="#0000db"/><rect x="719.64" y="330.78" width="15.92" height="14.69" fill="#0000dd"/><rect x="735.26" y="330.78" width="15.92" height="14.69" fill="#0000aa"/><rect x="750.88" y="330.78" width="15.92" height="14.69" fill="#0000f8"/><rect x="782.12" y="330.78" width="15.92" height="14.69" fill="#0000e5"/><rect x="797.74" y="330.78" width="15.92" height="14.69" fill="#0000df"/><rect x="813.36" y="330.78" width="15.92" height="14.69" fill="#0000e0"/><rect x="828.98" y="330.78" width="15.92" height="14.69" fill="#0000da"/><rect x="844.6" y="330.78" width="15.92" height="14.69" fill="#0000cf"/><rect x="860.22" y="330.78" width="15.92" height="14.69" fill="#0000dc"/><rect x="875.84" y="330.78" width="15.92" height="14.69" fill="#0000e4"/><rect x="891.46" y="330.78" width="15.92" height="14.69" fill="#0000d8"/><rect x="907.08" y="330.78" width="15.92" height="14.69" fill="#0000e7"/><rect x="922.7" y="330.78" width="15.92" height="14.69" fill="#0000e2"/><rect x="938.32" y="330.78" width="15.92" height="14.69" fill="#0000dc"/><rect x="953.94" y="330.78" width="15.92" height="14.69" fill="#0000e6"/><rect x="969.56" y="330.78" width="15.92" height="14.69" fill="#0000e1"/><rect x="985.18" y="330.78" width="15.92" height="14.69" fill="#0000e8"/>
<rect x="688.4" y="345.17" width="15.92" height="14.69" fill="#0000de"/><rect x="704.02" y="345.17" width="15.92" height="14.69" fill="#0000dc"/><rect x="719.64" y="345.17" width="15.92" height="14.69" fill="#0000df"/><rect x="735.26" y="345.17" width="15.92" height="14.69" fill="#0000d3"/><rect x="766.5" y="345.17" width="15.92" height="14.69" fill="#0000fc"/><rect x="782.12" y="345.17" width="15.92" height="14.69" fill="#0000da"/><rect x="797.74" y="345.17" width="15.92" height="14.69" fill="#0000e4"/><rect x="813.36" y="345.17" width="15.92" height="14.69" fill="#0000dd"/><rect x="828.98" y="345.17" width="15.92" height="14.69" fill="#0000df"/><rect x="844.6" y="345.17" width="15.92" height="14.69" fill="#000096"/><rect x="860.22" y="345.17" width="15.92" height="14.69" fill="#0000df"/><rect x="875.84" y="345.17" width="15.92" height="14.69" fill="#0000e1"/><rect x="891.46" y="345.17" width="15.92" height="14.69" fill="#0000db"/><rect x="907.08" y="345.17" width="15.92" height="14.69" fill="#0000d9"/><rect x="922.7" y="345.17" width="15.92" height="14.69" fill="#0000e1"/><rect x="938.32" y="345.17" width="15.92" height="14.69" fill="#0000de"/><rect x="953.94" y="345.17" width="15.92" height="14.69" fill="#0000e8"/><rect x="969.56" y="345.17" width="15.92" height="14.69" fill="#0000dd"/><rect x="985.18" y="345.17" width="15.92" height="14.69" fill="#0000de"/>
<rect x="750.88" y="359.57" width="15.92" height="14.69" fill="#0000d8"/><rect x="766.5" y="359.57" width="15.92" height="14.69" fill="#0000db"/><rect x="782.12" y="359.57" width="15.92" height="14.69" fill="#0000e4"/><rect x="797.74" y="359.57" width="15.92" height="14.69" fill="#0000e2"/><rect x="813.36" y="359.57" width="15.92" height="14.69" fill="#0000de"/><rect x="828.98" y="359.57" width="15.92" height="14.69" fill="#0000e9"/><rect x="844.6" y="359.57" width="15.92" height="14.69" fill="#0000e1"/><rect x="860.22" y="359.57" width="15.92" height="14.69" fill="#0000e6"/><rect x="875.84" y="359.57" width="15.92" height="14.69" fill="#0000e7"/><rect x="891.46" y="359.57" width="15.92" height="14.69" fill="#0000e8"/><rect x="907.08" y="359.57" width="15.92" height="14.69" fill="#0000dc"/><rect x="922.7" y="359.57" width="15.92" height="14.69" fill="#0000e7"/><rect x="938.32" y="359.57" width="15.92" height="14.69" fill="#0000e5"/><rect x="953.94" y="359.57" width="15.92" height="14.69" fill="#0000e2"/><rect x="969.56" y="359.57" width="15.92" height="14.69" fill="#0000da"/>
<rect x="750.88" y="373.96" width="15.92" height="14.69" fill="#0000e8"/><rect x="766.5" y="373.96" width="15.92" height="14.69" fill="#0000e1"/><rect x="782.12" y="373.96" width="15.92" height="14.69" fill="#0000e0"/><rect x="797.74" y="373.96" width="15.92" height="14.69" fill="#0000da"/><rect x="813.36" y="373.96" width="15.92" height="14.69" fill="#0000db"/><rect x="828.98" y="373.96" width="15.92" height="14.69" fill="#0000da"/><rect x="844.6" y="373.96" width="15.92" height="14.69" fill="#0000e4"/><rect x="860.22" y="373.96" width="15.92" height="14.69" fill="#0000e2"/><rect x="875.84" y="373.96" width="15.92" height="14.69" fill="#0000e3"/><rect x="891.46" y="373.96" width="15.92" height="14.69" fill="#0000da"/><rect x="907.08" y="373.96" width="15.92" height="14.69" fill="#0000d9"/><rect x="922.7" y="373.96" width="31.54" height="14.69" fill="#0000e6"/><rect x="953.94" y="373.96" width="31.54" height="14.69" fill="#0000e5"/>
<rect x="735.26" y="388.35" width="15.92" height="14.69" fill="#0000e1"/><rect x="750.88" y="388.35" width="15.92" height="14.69" fill="#0000d6"/><rect x="766.5" y="388.35" width="15.92" height="14.69" fill="#0000df"/><rect x="782.12" y="388.35" width="15.92" height="14.69" fill="#0000e4"/><rect x="797.74" y="388.35" width="15.92" height="14.69" fill="#0000e9"/><rect x="813.36" y="388.35" width="15.92" height="14.69" fill="#0000e2"/><rect x="828.98" y="388.35" width="15.92" height="14.69" fill="#0000e3"/><rect x="844.6" y="388.35" width="15.92" height="14.69" fill="#0000df"/><rect x="860.22" y="388.35" width="15.92" height="14.69" fill="#0000d9"/><rect x="875.84" y="388.35" width="15.92" height="14.69" fill="#0000dd"/><rect x="891.46" y="388.35" width="15.92" height="14.69" fill="#0000e0"/><rect x="907.08" y="388.35" width="15.92" height="14.69" fill="#0000d3"/><rect x="922.7" y="388.35" width="15.92" height="14.69" fill="#0000de"/><rect x="938.32" y="388.35" width="15.92" height="14.69" fill="#0000dd"/><rect x="953.94" y="388.35" width="15.92" height="14.69" fill="#0000e8"/><rect x="969.56" y="388.35" width="15.92" height="14.69" fill="#0000da"/><rect x="985.18" y="388.35" width="15.92" height="14.69" fill="#0000dc"/>
<rect x="735.26" y="402.75" width="15.92" height="14.69" fill="#0000cc"/><rect x="750.88" y="402.75" width="15.92" height="14.69" fill="#0000fc"/><rect x="766.5" y="402.75" width="15.92" height="14.69" fill="#0000da"/><rect x="782.12" y="402.75" width="15.92" height="14.69" fill="#00008f"/><rect x="797.74" y="402.75" width="15.92" height="14.69" fill="#0000db"/><rect x="844.6" y="402.75" width="31.54" height="14.69" fill="#0000e2"/><rect x="875.84" y="402.75" width="15.92" height="14.69" fill="#0000e7"/><rect x="891.46" y="402.75" width="15.92" height="14.69" fill="#0000de"/><rect x="907.08" y="402.75" width="31.54" height="14.69" fill="#0000e8"/><rect x="938.32" y="402.75" width="15.92" height="14.69" fill="#0000e5"/><rect x="953.94" y="402.75" width="15.92" height="14.69" fill="#0000e6"/><rect x="969.56" y="402.75" width="15.92" height="14.69" fill="#0000e3"/><rect x="985.18" y="402.75" width="15.92" height="14.69" fill="#0000e8"/>
<rect x="735.26" y="417.14" width="15.92" height="14.69" fill="#0000e9"/><rect x="750.88" y="417.14" width="15.92" height="14.69" fill="#0000e6"/><rect x="766.5" y="417.14" width="15.92" height="14.69" fill="#0000e7"/><rect x="782.12" y="417.14" width="15.92" height="14.69" fill="#0000d6"/><rect x="797.74" y="417.14" width="15.92" height="14.69" fill="#0000e3"/><rect x="828.98" y="417.14" width="15.92" height="14.69" fill="#0000e8"/><rect x="844.6" y="417.14" width="15.92" height="14.69" fill="#0000da"/><rect x="860.22" y="417.14" width="15.92" height="14.69" fill="#0000de"/><rect x="875.84" y="417.14" width="15.92" height="14.69" fill="#0000e6"/><rect x="891.46" y="417.14" width="15.92" height="14.69" fill="#0000e5"/><rect x="907.08" y="417.14" width="31.54" height="14.69" fill="#0000e3"/><rect x="938.32" y="417.14" width="15.92" height="14.69" fill="#0000e7"/><rect x="953.94" y="417.14" width="15.92" height="14.69" fill="#0000da"/>
<rect x="735.26" y="431.53" width="15.92" height="14.69" fill="#0000d8"/><rect x="750.88" y="431.53" width="31.54" height="14.69" fill="#0000e1"/><rect x="782.12" y="431.53" width="31.54" height="14.69" fill="#0000e7"/><rect x="828.98" y="431.53" width="15.92" height="14.69" fill="#0000e3"/><rect x="844.6" y="431.53" width="15.92" height="14.69" fill="#0000e4"/><rect x="860.22" y="431.53" width="15.92" height="14.69" fill="#0000db"/><rect x="875.84" y="431.53" width="15.92" height="14.69" fill="#0000e6"/><rect x="891.46" y="431.53" width="15.92" height="14.69" fill="#0000e9"/><rect x="907.08" y="431.53" width="15.92" height="14.69" fill="#0000d9"/>
<rect x="766.5" y="445.93" width="15.92" height="14.69" fill="#0000cf"/><rect x="782.12" y="445.93" width="15.92" height="14.69" fill="#0000da"/><rect x="797.74" y="445.93" width="15.92" height="14.69" fill="#000066"/><rect x="813.36" y="445.93" width="15.92" height="14.69" fill="#0000e0"/><rect x="828.98" y="445.93" width="15.92" height="14.69" fill="#0000e6"/><rect x="844.6" y="445.93" width="15.92" height="14.69" fill="#0000e0"/><rect x="860.22" y="445.93" width="15.92" height="14.69" fill="#0000e8"/><rect x="875.84" y="445.93" width="15.92" height="14.69" fill="#0000f5"/><rect x="891.46" y="445.93" width="15.92" height="14.69" fill="#0000e0"/>
<rect x="782.12" y="460.32" width="15.92" height="14.69" fill="#0000d8"/><rect x="813.36" y="460.32" width="15.92" height="14.69" fill="#0000da"/><rect x="828.98" y="460.32" width="15.92" height="14.69" fill="#0000dd"/><rect x="844.6" y="460.32" width="15.92" height="14.69" fill="#0000e4"/><rect x="860.22" y="460.32" width="15.92" height="14.69" fill="#0000e3"/>
<rect x="813.36" y="474.71" width="15.92" height="14.69" fill="#000044"/><rect x="828.98" y="474.71" width="15.92" height="14.69" fill="#0000e6"/><rect x="844.6" y="474.71" width="15.92" height="14.69" fill="#0000dc"/><rect x="860.22" y="474.71" width="15.92" height="14.69" fill="#0000e0"/>
<rect x="844.6" y="489.11" width="15.92" height="14.69" fill="#0000dc"/>
</g>
<rect x="688.4" y="287.6" width="312.4" height="215.9" fill="none" stroke="#1a1a1a" stroke-width="1.3"/>
<g shape-rendering="crispEdges">
<rect x="1006.1" y="287.6" width="15.8" height="14.69" fill="#1f1fff"/><rect x="1021.6" y="287.6" width="15.8" height="14.69" fill="#0000f2"/><rect x="1037.1" y="287.6" width="15.8" height="14.69" fill="#0000f3"/><rect x="1052.6" y="287.6" width="15.8" height="14.69" fill="#0000eb"/><rect x="1099.1" y="287.6" width="15.8" height="14.69" fill="#0000e9"/><rect x="1114.6" y="287.6" width="15.8" height="14.69" fill="#0000eb"/><rect x="1130.1" y="287.6" width="15.8" height="14.69" fill="#0000ec"/><rect x="1145.6" y="287.6" width="15.8" height="14.69" fill="#0000eb"/><rect x="1161.1" y="287.6" width="15.8" height="14.69" fill="#0000ec"/><rect x="1176.6" y="287.6" width="15.8" height="14.69" fill="#0000f3"/><rect x="1192.1" y="287.6" width="15.8" height="14.69" fill="#0000ef"/><rect x="1207.6" y="287.6" width="15.8" height="14.69" fill="#0000f2"/><rect x="1223.1" y="287.6" width="15.8" height="14.69" fill="#1818ff"/><rect x="1238.6" y="287.6" width="31.3" height="14.69" fill="#0000f6"/><rect x="1269.6" y="287.6" width="31.3" height="14.69" fill="#0000f3"/>
<rect x="1006.1" y="301.99" width="15.8" height="14.69" fill="#0000ed"/><rect x="1021.6" y="301.99" width="31.3" height="14.69" fill="#0000fc"/><rect x="1052.6" y="301.99" width="15.8" height="14.69" fill="#0000e9"/><rect x="1068.1" y="301.99" width="15.8" height="14.69" fill="#0000f0"/><rect x="1083.6" y="301.99" width="15.8" height="14.69" fill="#0000ea"/><rect x="1114.6" y="301.99" width="15.8" height="14.69" fill="#0000e9"/><rect x="1130.1" y="301.99" width="15.8" height="14.69" fill="#0000ea"/><rect x="1145.6" y="301.99" width="15.8" height="14.69" fill="#0000f2"/><rect x="1161.1" y="301.99" width="15.8" height="14.69" fill="#0000f4"/><rect x="1176.6" y="301.99" width="15.8" height="14.69" fill="#0000f3"/><rect x="1192.1" y="301.99" width="31.3" height="14.69" fill="#0000f4"/><rect x="1223.1" y="301.99" width="15.8" height="14.69" fill="#0000ee"/><rect x="1238.6" y="301.99" width="15.8" height="14.69" fill="#0000ea"/><rect x="1254.1" y="301.99" width="15.8" height="14.69" fill="#0000eb"/><rect x="1269.6" y="301.99" width="15.8" height="14.69" fill="#0000f0"/><rect x="1285.1" y="301.99" width="15.8" height="14.69" fill="#1f1fff"/><rect x="1300.6" y="301.99" width="15.8" height="14.69" fill="#0000ee"/>
<rect x="1006.1" y="316.39" width="15.8" height="14.69" fill="#0000ec"/><rect x="1021.6" y="316.39" width="15.8" height="14.69" fill="#1b1bff"/><rect x="1052.6" y="316.39" width="15.8" height="14.69" fill="#0000f5"/><rect x="1068.1" y="316.39" width="15.8" height="14.69" fill="#0000ee"/><rect x="1083.6" y="316.39" width="15.8" height="14.69" fill="#0000ea"/><rect x="1099.1" y="316.39" width="15.8" height="14.69" fill="#1f1fff"/><rect x="1114.6" y="316.39" width="31.3" height="14.69" fill="#0000ec"/><rect x="1145.6" y="316.39" width="15.8" height="14.69" fill="#0000f0"/><rect x="1161.1" y="316.39" width="15.8" height="14.69" fill="#0000f4"/><rect x="1176.6" y="316.39" width="15.8" height="14.69" fill="#0000ec"/><rect x="1192.1" y="316.39" width="15.8" height="14.69" fill="#0000f2"/><rect x="1207.6" y="316.39" width="15.8" height="14.69" fill="#0000ec"/><rect x="1223.1" y="316.39" width="15.8" height="14.69" fill="#0000e9"/><rect x="1238.6" y="316.39" width="31.3" height="14.69" fill="#0000f1"/><rect x="1269.6" y="316.39" width="15.8" height="14.69" fill="#0000ea"/><rect x="1285.1" y="316.39" width="15.8" height="14.69" fill="#0000ed"/><rect x="1300.6" y="316.39" width="15.8" height="14.69" fill="#0000f4"/>
<rect x="1006.1" y="330.78" width="15.8" height="14.69" fill="#0000f5"/><rect x="1021.6" y="330.78" width="15.8" height="14.69" fill="#0000f4"/><rect x="1037.1" y="330.78" width="15.8" height="14.69" fill="#0000ea"/><rect x="1052.6" y="330.78" width="15.8" height="14.69" fill="#1f1fff"/><rect x="1068.1" y="330.78" width="15.8" height="14.69" fill="#0000ec"/><rect x="1099.1" y="330.78" width="15.8" height="14.69" fill="#0000f5"/><rect x="1114.6" y="330.78" width="15.8" height="14.69" fill="#0000eb"/><rect x="1130.1" y="330.78" width="15.8" height="14.69" fill="#0000e9"/><rect x="1145.6" y="330.78" width="15.8" height="14.69" fill="#0000ee"/><rect x="1161.1" y="330.78" width="15.8" height="14.69" fill="#0000f2"/><rect x="1176.6" y="330.78" width="15.8" height="14.69" fill="#0000ef"/><rect x="1192.1" y="330.78" width="15.8" height="14.69" fill="#0000f5"/><rect x="1207.6" y="330.78" width="15.8" height="14.69" fill="#0000f6"/><rect x="1223.1" y="330.78" width="15.8" height="14.69" fill="#0000e9"/><rect x="1238.6" y="330.78" width="15.8" height="14.69" fill="#0000ee"/><rect x="1254.1" y="330.78" width="15.8" height="14.69" fill="#0000ef"/><rect x="1269.6" y="330.78" width="15.8" height="14.69" fill="#0000ea"/><rect x="1285.1" y="330.78" width="15.8" height="14.69" fill="#0000f1"/><rect x="1300.6" y="330.78" width="15.8" height="14.69" fill="#0000eb"/>
<rect x="1006.1" y="345.17" width="15.8" height="14.69" fill="#0000eb"/><rect x="1021.6" y="345.17" width="15.8" height="14.69" fill="#0000f4"/><rect x="1037.1" y="345.17" width="31.3" height="14.69" fill="#0000f3"/><rect x="1083.6" y="345.17" width="15.8" height="14.69" fill="#0000ff"/><rect x="1099.1" y="345.17" width="15.8" height="14.69" fill="#0000f3"/><rect x="1114.6" y="345.17" width="15.8" height="14.69" fill="#0000ef"/><rect x="1130.1" y="345.17" width="15.8" height="14.69" fill="#0000f3"/><rect x="1145.6" y="345.17" width="15.8" height="14.69" fill="#0000f1"/><rect x="1161.1" y="345.17" width="15.8" height="14.69" fill="#4e4eff"/><rect x="1176.6" y="345.17" width="15.8" height="14.69" fill="#0000f5"/><rect x="1192.1" y="345.17" width="15.8" height="14.69" fill="#0000ea"/><rect x="1207.6" y="345.17" width="15.8" height="14.69" fill="#0000f2"/><rect x="1223.1" y="345.17" width="15.8" height="14.69" fill="#0000f0"/><rect x="1238.6" y="345.17" width="15.8" height="14.69" fill="#0000ef"/><rect x="1254.1" y="345.17" width="15.8" height="14.69" fill="#0000ea"/><rect x="1269.6" y="345.17" width="15.8" height="14.69" fill="#0000f1"/><rect x="1285.1" y="345.17" width="15.8" height="14.69" fill="#0000ea"/><rect x="1300.6" y="345.17" width="15.8" height="14.69" fill="#0000f0"/>
<rect x="1068.1" y="359.57" width="31.3" height="14.69" fill="#0000ef"/><rect x="1099.1" y="359.57" width="15.8" height="14.69" fill="#0000f8"/><rect x="1114.6" y="359.57" width="15.8" height="14.69" fill="#0000f6"/><rect x="1130.1" y="359.57" width="15.8" height="14.69" fill="#0000f1"/><rect x="1145.6" y="359.57" width="15.8" height="14.69" fill="#0000f4"/><rect x="1161.1" y="359.57" width="15.8" height="14.69" fill="#0000f6"/><rect x="1176.6" y="359.57" width="15.8" height="14.69" fill="#0000ec"/><rect x="1192.1" y="359.57" width="15.8" height="14.69" fill="#0000f4"/><rect x="1207.6" y="359.57" width="15.8" height="14.69" fill="#0000f0"/><rect x="1223.1" y="359.57" width="15.8" height="14.69" fill="#0000ed"/><rect x="1238.6" y="359.57" width="15.8" height="14.69" fill="#0000ef"/><rect x="1254.1" y="359.57" width="15.8" height="14.69" fill="#0000f2"/><rect x="1269.6" y="359.57" width="31.3" height="14.69" fill="#0000ef"/>
<rect x="1068.1" y="373.96" width="15.8" height="14.69" fill="#0000ec"/><rect x="1083.6" y="373.96" width="15.8" height="14.69" fill="#0000f5"/><rect x="1099.1" y="373.96" width="15.8" height="14.69" fill="#0000ef"/><rect x="1114.6" y="373.96" width="31.3" height="14.69" fill="#0000f3"/><rect x="1145.6" y="373.96" width="15.8" height="14.69" fill="#0000ec"/><rect x="1161.1" y="373.96" width="15.8" height="14.69" fill="#0000f0"/><rect x="1176.6" y="373.96" width="15.8" height="14.69" fill="#0000ef"/><rect x="1192.1" y="373.96" width="15.8" height="14.69" fill="#0000ec"/><rect x="1207.6" y="373.96" width="15.8" height="14.69" fill="#0000ea"/><rect x="1223.1" y="373.96" width="15.8" height="14.69" fill="#0000f0"/><rect x="1238.6" y="373.96" width="15.8" height="14.69" fill="#0000ee"/><rect x="1254.1" y="373.96" width="31.3" height="14.69" fill="#0000f0"/><rect x="1285.1" y="373.96" width="15.8" height="14.69" fill="#0000ed"/>
<rect x="1052.6" y="388.35" width="15.8" height="14.69" fill="#0000f0"/><rect x="1068.1" y="388.35" width="15.8" height="14.69" fill="#0000ef"/><rect x="1083.6" y="388.35" width="15.8" height="14.69" fill="#0000f0"/><rect x="1099.1" y="388.35" width="15.8" height="14.69" fill="#0000ea"/><rect x="1114.6" y="388.35" width="15.8" height="14.69" fill="#0000ed"/><rect x="1130.1" y="388.35" width="15.8" height="14.69" fill="#0000eb"/><rect x="1145.6" y="388.35" width="15.8" height="14.69" fill="#0000ea"/><rect x="1161.1" y="388.35" width="15.8" height="14.69" fill="#0000f3"/><rect x="1176.6" y="388.35" width="15.8" height="14.69" fill="#0000ef"/><rect x="1192.1" y="388.35" width="15.8" height="14.69" fill="#0000ea"/><rect x="1207.6" y="388.35" width="15.8" height="14.69" fill="#0000eb"/><rect x="1223.1" y="388.35" width="31.3" height="14.69" fill="#0000f5"/><rect x="1254.1" y="388.35" width="15.8" height="14.69" fill="#0000f0"/><rect x="1269.6" y="388.35" width="15.8" height="14.69" fill="#0000f6"/><rect x="1285.1" y="388.35" width="15.8" height="14.69" fill="#0000f3"/><rect x="1300.6" y="388.35" width="15.8" height="14.69" fill="#0000fc"/>
<rect x="1052.6" y="402.75" width="15.8" height="14.69" fill="#2525ff"/><rect x="1068.1" y="402.75" width="15.8" height="14.69" fill="#0000f6"/><rect x="1083.6" y="402.75" width="15.8" height="14.69" fill="#0000ed"/><rect x="1099.1" y="402.75" width="15.8" height="14.69" fill="#2222ff"/><rect x="1114.6" y="402.75" width="15.8" height="14.69" fill="#0000ec"/><rect x="1161.1" y="402.75" width="15.8" height="14.69" fill="#0000ea"/><rect x="1176.6" y="402.75" width="15.8" height="14.69" fill="#0000f4"/><rect x="1192.1" y="402.75" width="15.8" height="14.69" fill="#0000ed"/><rect x="1207.6" y="402.75" width="15.8" height="14.69" fill="#0000ee"/><rect x="1223.1" y="402.75" width="15.8" height="14.69" fill="#0000f5"/><rect x="1238.6" y="402.75" width="15.8" height="14.69" fill="#0000ea"/><rect x="1254.1" y="402.75" width="15.8" height="14.69" fill="#0000e9"/><rect x="1269.6" y="402.75" width="15.8" height="14.69" fill="#0000f4"/><rect x="1285.1" y="402.75" width="15.8" height="14.69" fill="#0000ea"/><rect x="1300.6" y="402.75" width="15.8" height="14.69" fill="#0000f1"/>
<rect x="1052.6" y="417.14" width="15.8" height="14.69" fill="#0000f0"/><rect x="1068.1" y="417.14" width="15.8" height="14.69" fill="#0000e9"/><rect x="1083.6" y="417.14" width="15.8" height="14.69" fill="#0000eb"/><rect x="1099.1" y="417.14" width="15.8" height="14.69" fill="#0000f4"/><rect x="1114.6" y="417.14" width="15.8" height="14.69" fill="#0000f1"/><rect x="1145.6" y="417.14" width="15.8" height="14.69" fill="#0000ef"/><rect x="1161.1" y="417.14" width="15.8" height="14.69" fill="#0000f2"/><rect x="1176.6" y="417.14" width="15.8" height="14.69" fill="#0000f4"/><rect x="1192.1" y="417.14" width="15.8" height="14.69" fill="#0000f2"/><rect x="1207.6" y="417.14" width="15.8" height="14.69" fill="#0000ed"/><rect x="1223.1" y="417.14" width="15.8" height="14.69" fill="#0000f6"/><rect x="1238.6" y="417.14" width="15.8" height="14.69" fill="#0000ef"/><rect x="1254.1" y="417.14" width="15.8" height="14.69" fill="#0000f1"/><rect x="1269.6" y="417.14" width="15.8" height="14.69" fill="#0000f6"/>
<rect x="1052.6" y="431.53" width="15.8" height="14.69" fill="#0000f2"/><rect x="1068.1" y="431.53" width="15.8" height="14.69" fill="#0000ee"/><rect x="1083.6" y="431.53" width="15.8" height="14.69" fill="#0000f0"/><rect x="1099.1" y="431.53" width="15.8" height="14.69" fill="#0000f6"/><rect x="1114.6" y="431.53" width="15.8" height="14.69" fill="#0000e9"/><rect x="1145.6" y="431.53" width="15.8" height="14.69" fill="#0000ec"/><rect x="1161.1" y="431.53" width="15.8" height="14.69" fill="#0000e9"/><rect x="1176.6" y="431.53" width="15.8" height="14.69" fill="#0000f5"/><rect x="1192.1" y="431.53" width="15.8" height="14.69" fill="#0000f3"/><rect x="1207.6" y="431.53" width="15.8" height="14.69" fill="#0000f6"/><rect x="1223.1" y="431.53" width="15.8" height="14.69" fill="#0000ec"/>
<rect x="1083.6" y="445.93" width="15.8" height="14.69" fill="#0000f3"/><rect x="1099.1" y="445.93" width="15.8" height="14.69" fill="#0000f5"/><rect x="1114.6" y="445.93" width="15.8" height="14.69" fill="#2c2cff"/><rect x="1130.1" y="445.93" width="15.8" height="14.69" fill="#0000f1"/><rect x="1145.6" y="445.93" width="15.8" height="14.69" fill="#0000ea"/><rect x="1161.1" y="445.93" width="15.8" height="14.69" fill="#0000eb"/><rect x="1176.6" y="445.93" width="15.8" height="14.69" fill="#0000f3"/><rect x="1192.1" y="445.93" width="15.8" height="14.69" fill="#0000f4"/><rect x="1207.6" y="445.93" width="15.8" height="14.69" fill="#0000ea"/>
<rect x="1099.1" y="460.32" width="15.8" height="14.69" fill="#0000ef"/><rect x="1130.1" y="460.32" width="15.8" height="14.69" fill="#0000ed"/><rect x="1145.6" y="460.32" width="15.8" height="14.69" fill="#0000f5"/><rect x="1161.1" y="460.32" width="15.8" height="14.69" fill="#0000f6"/><rect x="1176.6" y="460.32" width="15.8" height="14.69" fill="#0000ed"/>
<rect x="1130.1" y="474.71" width="15.8" height="14.69" fill="#0000f1"/><rect x="1145.6" y="474.71" width="15.8" height="14.69" fill="#0000f6"/><rect x="1161.1" y="474.71" width="15.8" height="14.69" fill="#0000ea"/><rect x="1176.6" y="474.71" width="15.8" height="14.69" fill="#0000ee"/>
<rect x="1161.1" y="489.11" width="15.8" height="14.69" fill="#0000ec"/>
</g>
<rect x="1006.1" y="287.6" width="310" height="215.9" fill="none" stroke="#1a1a1a" stroke-width="1.3"/>
<g shape-rendering="crispEdges">
<rect x="1319.2" y="286.4" width="15.98" height="14.67" fill="#0000b8"/><rect x="1334.88" y="286.4" width="15.98" height="14.67" fill="#0000dc"/><rect x="1350.56" y="286.4" width="15.98" height="14.67" fill="#0000c4"/><rect x="1366.24" y="286.4" width="15.98" height="14.67" fill="#0000dd"/><rect x="1413.28" y="286.4" width="15.98" height="14.67" fill="#0000c4"/><rect x="1428.96" y="286.4" width="15.98" height="14.67" fill="#0000ff"/><rect x="1444.64" y="286.4" width="15.98" height="14.67" fill="#1111ff"/><rect x="1460.32" y="286.4" width="15.98" height="14.67" fill="#0000d1"/><rect x="1476" y="286.4" width="15.98" height="14.67" fill="#0000d4"/><rect x="1491.68" y="286.4" width="15.98" height="14.67" fill="#0000ce"/><rect x="1507.36" y="286.4" width="15.98" height="14.67" fill="#0000c2"/><rect x="1523.04" y="286.4" width="15.98" height="14.67" fill="#0000d7"/><rect x="1538.72" y="286.4" width="15.98" height="14.67" fill="#00008f"/><rect x="1554.4" y="286.4" width="15.98" height="14.67" fill="#0000db"/><rect x="1570.08" y="286.4" width="15.98" height="14.67" fill="#0000b8"/><rect x="1585.76" y="286.4" width="15.98" height="14.67" fill="#0000fc"/><rect x="1601.44" y="286.4" width="15.98" height="14.67" fill="#0000cf"/>
<rect x="1319.2" y="300.77" width="15.98" height="14.67" fill="#0000d7"/><rect x="1334.88" y="300.77" width="15.98" height="14.67" fill="#0000fc"/><rect x="1350.56" y="300.77" width="15.98" height="14.67" fill="#0000be"/><rect x="1366.24" y="300.77" width="15.98" height="14.67" fill="#0000db"/><rect x="1381.92" y="300.77" width="15.98" height="14.67" fill="#0000da"/><rect x="1397.6" y="300.77" width="15.98" height="14.67" fill="#0000dd"/><rect x="1428.96" y="300.77" width="15.98" height="14.67" fill="#0000d9"/><rect x="1444.64" y="300.77" width="31.66" height="14.67" fill="#0000d5"/><rect x="1476" y="300.77" width="15.98" height="14.67" fill="#0000c7"/><rect x="1491.68" y="300.77" width="15.98" height="14.67" fill="#0000d6"/><rect x="1507.36" y="300.77" width="15.98" height="14.67" fill="#0000cf"/><rect x="1523.04" y="300.77" width="15.98" height="14.67" fill="#000055"/><rect x="1538.72" y="300.77" width="15.98" height="14.67" fill="#0000d9"/><rect x="1554.4" y="300.77" width="15.98" height="14.67" fill="#0000d4"/><rect x="1570.08" y="300.77" width="15.98" height="14.67" fill="#0000de"/><rect x="1585.76" y="300.77" width="15.98" height="14.67" fill="#0000d7"/><rect x="1601.44" y="300.77" width="15.98" height="14.67" fill="#0000de"/><rect x="1617.12" y="300.77" width="15.98" height="14.67" fill="#0000c8"/>
<rect x="1319.2" y="315.15" width="15.98" height="14.67" fill="#0000ce"/><rect x="1334.88" y="315.15" width="15.98" height="14.67" fill="#0000d9"/><rect x="1366.24" y="315.15" width="15.98" height="14.67" fill="#0000d0"/><rect x="1381.92" y="315.15" width="15.98" height="14.67" fill="#0000c2"/><rect x="1397.6" y="315.15" width="15.98" height="14.67" fill="#0000db"/><rect x="1413.28" y="315.15" width="15.98" height="14.67" fill="#000096"/><rect x="1428.96" y="315.15" width="15.98" height="14.67" fill="#0000c6"/><rect x="1444.64" y="315.15" width="15.98" height="14.67" fill="#0000d1"/><rect x="1460.32" y="315.15" width="15.98" height="14.67" fill="#0000d0"/><rect x="1476" y="315.15" width="15.98" height="14.67" fill="#0000c5"/><rect x="1491.68" y="315.15" width="15.98" height="14.67" fill="#0000ff"/><rect x="1507.36" y="315.15" width="15.98" height="14.67" fill="#0000d3"/><rect x="1523.04" y="315.15" width="15.98" height="14.67" fill="#0000cf"/><rect x="1538.72" y="315.15" width="15.98" height="14.67" fill="#0000ca"/><rect x="1554.4" y="315.15" width="15.98" height="14.67" fill="#0000c1"/><rect x="1570.08" y="315.15" width="15.98" height="14.67" fill="#0000d4"/><rect x="1585.76" y="315.15" width="15.98" height="14.67" fill="#0000c5"/><rect x="1601.44" y="315.15" width="15.98" height="14.67" fill="#0a0aff"/><rect x="1617.12" y="315.15" width="15.98" height="14.67" fill="#0000c9"/>
<rect x="1319.2" y="329.52" width="15.98" height="14.67" fill="#0000cb"/><rect x="1334.88" y="329.52" width="15.98" height="14.67" fill="#0000d2"/><rect x="1350.56" y="329.52" width="15.98" height="14.67" fill="#0000d4"/><rect x="1366.24" y="329.52" width="15.98" height="14.67" fill="#000096"/><rect x="1381.92" y="329.52" width="15.98" height="14.67" fill="#0000dd"/><rect x="1413.28" y="329.52" width="15.98" height="14.67" fill="#000096"/><rect x="1428.96" y="329.52" width="15.98" height="14.67" fill="#0000db"/><rect x="1444.64" y="329.52" width="15.98" height="14.67" fill="#0000dd"/><rect x="1460.32" y="329.52" width="15.98" height="14.67" fill="#0000c8"/><rect x="1476" y="329.52" width="15.98" height="14.67" fill="#0000d7"/><rect x="1491.68" y="329.52" width="15.98" height="14.67" fill="#0000da"/><rect x="1507.36" y="329.52" width="15.98" height="14.67" fill="#0000dc"/><rect x="1523.04" y="329.52" width="15.98" height="14.67" fill="#0000c5"/><rect x="1538.72" y="329.52" width="15.98" height="14.67" fill="#0000c4"/><rect x="1554.4" y="329.52" width="15.98" height="14.67" fill="#0000ca"/><rect x="1570.08" y="329.52" width="15.98" height="14.67" fill="#0000bb"/><rect x="1585.76" y="329.52" width="15.98" height="14.67" fill="#0000d6"/><rect x="1601.44" y="329.52" width="15.98" height="14.67" fill="#0000d7"/><rect x="1617.12" y="329.52" width="15.98" height="14.67" fill="#0000d6"/>
<rect x="1319.2" y="343.89" width="15.98" height="14.67" fill="#0000d1"/><rect x="1334.88" y="343.89" width="15.98" height="14.67" fill="#0000fc"/><rect x="1350.56" y="343.89" width="15.98" height="14.67" fill="#0000da"/><rect x="1366.24" y="343.89" width="15.98" height="14.67" fill="#0000d1"/><rect x="1397.6" y="343.89" width="15.98" height="14.67" fill="#0000d7"/><rect x="1413.28" y="343.89" width="31.66" height="14.67" fill="#0000c1"/><rect x="1444.64" y="343.89" width="15.98" height="14.67" fill="#0000ce"/><rect x="1460.32" y="343.89" width="15.98" height="14.67" fill="#0000d7"/><rect x="1476" y="343.89" width="15.98" height="14.67" fill="#000000"/><rect x="1491.68" y="343.89" width="15.98" height="14.67" fill="#0000c1"/><rect x="1507.36" y="343.89" width="15.98" height="14.67" fill="#0000d5"/><rect x="1523.04" y="343.89" width="15.98" height="14.67" fill="#0000d4"/><rect x="1538.72" y="343.89" width="15.98" height="14.67" fill="#0000df"/><rect x="1554.4" y="343.89" width="15.98" height="14.67" fill="#0000d3"/><rect x="1570.08" y="343.89" width="15.98" height="14.67" fill="#0000d0"/><rect x="1585.76" y="343.89" width="15.98" height="14.67" fill="#0000cf"/><rect x="1601.44" y="343.89" width="15.98" height="14.67" fill="#0000b8"/><rect x="1617.12" y="343.89" width="15.98" height="14.67" fill="#0000d9"/>
<rect x="1381.92" y="358.27" width="15.98" height="14.67" fill="#0000cf"/><rect x="1397.6" y="358.27" width="15.98" height="14.67" fill="#0000df"/><rect x="1413.28" y="358.27" width="15.98" height="14.67" fill="#0000d7"/><rect x="1428.96" y="358.27" width="15.98" height="14.67" fill="#0000b1"/><rect x="1444.64" y="358.27" width="15.98" height="14.67" fill="#0000dc"/><rect x="1460.32" y="358.27" width="15.98" height="14.67" fill="#0000d2"/><rect x="1476" y="358.27" width="15.98" height="14.67" fill="#0000dd"/><rect x="1491.68" y="358.27" width="15.98" height="14.67" fill="#0000de"/><rect x="1507.36" y="358.27" width="15.98" height="14.67" fill="#0000d5"/><rect x="1523.04" y="358.27" width="15.98" height="14.67" fill="#0000d8"/><rect x="1538.72" y="358.27" width="15.98" height="14.67" fill="#0000cd"/><rect x="1554.4" y="358.27" width="15.98" height="14.67" fill="#0000cf"/><rect x="1570.08" y="358.27" width="15.98" height="14.67" fill="#0000c8"/><rect x="1585.76" y="358.27" width="15.98" height="14.67" fill="#0000b8"/><rect x="1601.44" y="358.27" width="15.98" height="14.67" fill="#0000cb"/>
<rect x="1381.92" y="372.64" width="15.98" height="14.67" fill="#0000c9"/><rect x="1397.6" y="372.64" width="15.98" height="14.67" fill="#0000c4"/><rect x="1413.28" y="372.64" width="15.98" height="14.67" fill="#0000fc"/><rect x="1428.96" y="372.64" width="15.98" height="14.67" fill="#0000d3"/><rect x="1444.64" y="372.64" width="15.98" height="14.67" fill="#0000d5"/><rect x="1460.32" y="372.64" width="15.98" height="14.67" fill="#0000c1"/><rect x="1476" y="372.64" width="15.98" height="14.67" fill="#0000da"/><rect x="1491.68" y="372.64" width="15.98" height="14.67" fill="#0000c9"/><rect x="1507.36" y="372.64" width="15.98" height="14.67" fill="#0000cb"/><rect x="1523.04" y="372.64" width="15.98" height="14.67" fill="#0000dd"/><rect x="1538.72" y="372.64" width="15.98" height="14.67" fill="#0000c5"/><rect x="1554.4" y="372.64" width="15.98" height="14.67" fill="#0000fc"/><rect x="1570.08" y="372.64" width="15.98" height="14.67" fill="#0000c3"/><rect x="1585.76" y="372.64" width="15.98" height="14.67" fill="#0000b8"/><rect x="1601.44" y="372.64" width="15.98" height="14.67" fill="#0000cc"/>
<rect x="1366.24" y="387.01" width="15.98" height="14.67" fill="#0000c8"/><rect x="1381.92" y="387.01" width="15.98" height="14.67" fill="#0000c6"/><rect x="1397.6" y="387.01" width="15.98" height="14.67" fill="#0000da"/><rect x="1413.28" y="387.01" width="15.98" height="14.67" fill="#0000cf"/><rect x="1428.96" y="387.01" width="15.98" height="14.67" fill="#000092"/><rect x="1444.64" y="387.01" width="15.98" height="14.67" fill="#0000cf"/><rect x="1460.32" y="387.01" width="15.98" height="14.67" fill="#0000c5"/><rect x="1476" y="387.01" width="15.98" height="14.67" fill="#0000c6"/><rect x="1491.68" y="387.01" width="15.98" height="14.67" fill="#0000c5"/><rect x="1507.36" y="387.01" width="15.98" height="14.67" fill="#0000cd"/><rect x="1523.04" y="387.01" width="15.98" height="14.67" fill="#0000c3"/><rect x="1538.72" y="387.01" width="15.98" height="14.67" fill="#0000ca"/><rect x="1554.4" y="387.01" width="15.98" height="14.67" fill="#0000c9"/><rect x="1570.08" y="387.01" width="15.98" height="14.67" fill="#0000b8"/><rect x="1585.76" y="387.01" width="15.98" height="14.67" fill="#0000d8"/><rect x="1601.44" y="387.01" width="15.98" height="14.67" fill="#0000de"/><rect x="1617.12" y="387.01" width="15.98" height="14.67" fill="#0000db"/>
<rect x="1366.24" y="401.39" width="15.98" height="14.67" fill="#000099"/><rect x="1381.92" y="401.39" width="15.98" height="14.67" fill="#0000d4"/><rect x="1397.6" y="401.39" width="15.98" height="14.67" fill="#0000db"/><rect x="1413.28" y="401.39" width="15.98" height="14.67" fill="#000099"/><rect x="1428.96" y="401.39" width="15.98" height="14.67" fill="#0000c5"/><rect x="1476" y="401.39" width="15.98" height="14.67" fill="#0000aa"/><rect x="1491.68" y="401.39" width="15.98" height="14.67" fill="#0000ce"/><rect x="1507.36" y="401.39" width="15.98" height="14.67" fill="#0000cb"/><rect x="1523.04" y="401.39" width="15.98" height="14.67" fill="#0000cc"/><rect x="1538.72" y="401.39" width="15.98" height="14.67" fill="#0000ca"/><rect x="1554.4" y="401.39" width="15.98" height="14.67" fill="#0000d0"/><rect x="1570.08" y="401.39" width="15.98" height="14.67" fill="#0000df"/><rect x="1585.76" y="401.39" width="15.98" height="14.67" fill="#0000c6"/><rect x="1601.44" y="401.39" width="15.98" height="14.67" fill="#0000c8"/><rect x="1617.12" y="401.39" width="15.98" height="14.67" fill="#0000cf"/>
<rect x="1366.24" y="415.76" width="15.98" height="14.67" fill="#0a0aff"/><rect x="1381.92" y="415.76" width="15.98" height="14.67" fill="#0000ce"/><rect x="1397.6" y="415.76" width="15.98" height="14.67" fill="#0000cb"/><rect x="1413.28" y="415.76" width="15.98" height="14.67" fill="#0000dd"/><rect x="1428.96" y="415.76" width="15.98" height="14.67" fill="#0000c8"/><rect x="1460.32" y="415.76" width="15.98" height="14.67" fill="#0000d7"/><rect x="1476" y="415.76" width="15.98" height="14.67" fill="#1111ff"/><rect x="1491.68" y="415.76" width="15.98" height="14.67" fill="#0000dc"/><rect x="1507.36" y="415.76" width="15.98" height="14.67" fill="#0000d7"/><rect x="1523.04" y="415.76" width="15.98" height="14.67" fill="#0000c8"/><rect x="1538.72" y="415.76" width="15.98" height="14.67" fill="#0000d8"/><rect x="1554.4" y="415.76" width="31.66" height="14.67" fill="#0000b1"/><rect x="1585.76" y="415.76" width="15.98" height="14.67" fill="#0000c8"/>
<rect x="1366.24" y="430.13" width="15.98" height="14.67" fill="#0000c1"/><rect x="1381.92" y="430.13" width="15.98" height="14.67" fill="#0000d0"/><rect x="1397.6" y="430.13" width="15.98" height="14.67" fill="#0000d3"/><rect x="1413.28" y="430.13" width="15.98" height="14.67" fill="#0000d0"/><rect x="1428.96" y="430.13" width="15.98" height="14.67" fill="#0000fc"/><rect x="1460.32" y="430.13" width="15.98" height="14.67" fill="#0000b8"/><rect x="1476" y="430.13" width="15.98" height="14.67" fill="#0000aa"/><rect x="1491.68" y="430.13" width="15.98" height="14.67" fill="#0000ff"/><rect x="1507.36" y="430.13" width="15.98" height="14.67" fill="#0000ca"/><rect x="1523.04" y="430.13" width="15.98" height="14.67" fill="#0000c7"/><rect x="1538.72" y="430.13" width="15.98" height="14.67" fill="#0000cc"/>
<rect x="1397.6" y="444.51" width="15.98" height="14.67" fill="#0000b8"/><rect x="1413.28" y="444.51" width="15.98" height="14.67" fill="#0000cb"/><rect x="1428.96" y="444.51" width="15.98" height="14.67" fill="#000096"/><rect x="1444.64" y="444.51" width="15.98" height="14.67" fill="#0000dc"/><rect x="1460.32" y="444.51" width="15.98" height="14.67" fill="#0000da"/><rect x="1476" y="444.51" width="15.98" height="14.67" fill="#0000d7"/><rect x="1491.68" y="444.51" width="15.98" height="14.67" fill="#0000c8"/><rect x="1507.36" y="444.51" width="15.98" height="14.67" fill="#0000d5"/><rect x="1523.04" y="444.51" width="15.98" height="14.67" fill="#0000b1"/>
<rect x="1413.28" y="458.88" width="15.98" height="14.67" fill="#0000cd"/><rect x="1444.64" y="458.88" width="15.98" height="14.67" fill="#0000de"/><rect x="1460.32" y="458.88" width="15.98" height="14.67" fill="#0000b8"/><rect x="1476" y="458.88" width="15.98" height="14.67" fill="#0000dd"/><rect x="1491.68" y="458.88" width="15.98" height="14.67" fill="#0000d6"/>
<rect x="1444.64" y="473.25" width="15.98" height="14.67" fill="#000000"/><rect x="1460.32" y="473.25" width="15.98" height="14.67" fill="#0000b8"/><rect x="1476" y="473.25" width="31.66" height="14.67" fill="#0000ca"/>
<rect x="1476" y="487.63" width="15.98" height="14.67" fill="#0000ca"/>
</g>
<rect x="1319.2" y="286.4" width="313.6" height="215.6" fill="none" stroke="#1a1a1a" stroke-width="1.3"/>
<g shape-rendering="crispEdges">
<rect x="688.4" y="551" width="15.92" height="14.67" fill="#702234"/><rect x="704.02" y="551" width="15.92" height="14.67" fill="#5a2a46"/><rect x="719.64" y="551" width="15.92" height="14.67" fill="#2090e0"/><rect x="735.26" y="551" width="15.92" height="14.67" fill="#a41824"/><rect x="782.12" y="551" width="15.92" height="14.67" fill="#a41824"/><rect x="797.74" y="551" width="31.54" height="14.67" fill="#bc181e"/><rect x="828.98" y="551" width="15.92" height="14.67" fill="#4a3558"/><rect x="844.6" y="551" width="15.92" height="14.67" fill="#861c2c"/><rect x="860.22" y="551" width="15.92" height="14.67" fill="#3e4272"/><rect x="875.84" y="551" width="15.92" height="14.67" fill="#d21a1c"/><rect x="891.46" y="551" width="15.92" height="14.67" fill="#a41824"/><rect x="907.08" y="551" width="15.92" height="14.67" fill="#861c2c"/><rect x="922.7" y="551" width="15.92" height="14.67" fill="#bc181e"/><rect x="938.32" y="551" width="15.92" height="14.67" fill="#d21a1c"/><rect x="953.94" y="551" width="15.92" height="14.67" fill="#bc181e"/><rect x="969.56" y="551" width="15.92" height="14.67" fill="#702234"/>
<rect x="688.4" y="565.37" width="15.92" height="14.67" fill="#861c2c"/><rect x="704.02" y="565.37" width="31.54" height="14.67" fill="#4a3558"/><rect x="735.26" y="565.37" width="47.16" height="14.67" fill="#bc181e"/><rect x="797.74" y="565.37" width="15.92" height="14.67" fill="#702234"/><rect x="813.36" y="565.37" width="15.92" height="14.67" fill="#d21a1c"/><rect x="828.98" y="565.37" width="15.92" height="14.67" fill="#3e4272"/><rect x="844.6" y="565.37" width="15.92" height="14.67" fill="#5a2a46"/><rect x="860.22" y="565.37" width="15.92" height="14.67" fill="#861c2c"/><rect x="875.84" y="565.37" width="15.92" height="14.67" fill="#bc181e"/><rect x="891.46" y="565.37" width="31.54" height="14.67" fill="#3e4272"/><rect x="922.7" y="565.37" width="15.92" height="14.67" fill="#a41824"/><rect x="938.32" y="565.37" width="15.92" height="14.67" fill="#335a90"/><rect x="953.94" y="565.37" width="15.92" height="14.67" fill="#bc181e"/><rect x="969.56" y="565.37" width="15.92" height="14.67" fill="#e6261a"/><rect x="985.18" y="565.37" width="15.92" height="14.67" fill="#702234"/>
<rect x="688.4" y="579.75" width="15.92" height="14.67" fill="#861c2c"/><rect x="704.02" y="579.75" width="15.92" height="14.67" fill="#e6261a"/><rect x="735.26" y="579.75" width="15.92" height="14.67" fill="#a41824"/><rect x="750.88" y="579.75" width="15.92" height="14.67" fill="#bc181e"/><rect x="766.5" y="579.75" width="15.92" height="14.67" fill="#d21a1c"/><rect x="782.12" y="579.75" width="15.92" height="14.67" fill="#bc181e"/><rect x="797.74" y="579.75" width="15.92" height="14.67" fill="#a41824"/><rect x="813.36" y="579.75" width="15.92" height="14.67" fill="#861c2c"/><rect x="828.98" y="579.75" width="15.92" height="14.67" fill="#a41824"/><rect x="844.6" y="579.75" width="15.92" height="14.67" fill="#861c2c"/><rect x="860.22" y="579.75" width="15.92" height="14.67" fill="#bc181e"/><rect x="875.84" y="579.75" width="47.16" height="14.67" fill="#a41824"/><rect x="922.7" y="579.75" width="31.54" height="14.67" fill="#861c2c"/><rect x="953.94" y="579.75" width="15.92" height="14.67" fill="#a41824"/><rect x="969.56" y="579.75" width="15.92" height="14.67" fill="#861c2c"/><rect x="985.18" y="579.75" width="15.92" height="14.67" fill="#bc181e"/>
<rect x="688.4" y="594.12" width="15.92" height="14.67" fill="#861c2c"/><rect x="704.02" y="594.12" width="31.54" height="14.67" fill="#bc181e"/><rect x="735.26" y="594.12" width="15.92" height="14.67" fill="#fa5818"/><rect x="750.88" y="594.12" width="15.92" height="14.67" fill="#5a2a46"/><rect x="782.12" y="594.12" width="15.92" height="14.67" fill="#861c2c"/><rect x="797.74" y="594.12" width="47.16" height="14.67" fill="#a41824"/><rect x="844.6" y="594.12" width="15.92" height="14.67" fill="#d21a1c"/><rect x="860.22" y="594.12" width="31.54" height="14.67" fill="#a41824"/><rect x="891.46" y="594.12" width="15.92" height="14.67" fill="#d21a1c"/><rect x="907.08" y="594.12" width="15.92" height="14.67" fill="#a41824"/><rect x="922.7" y="594.12" width="15.92" height="14.67" fill="#5a2a46"/><rect x="938.32" y="594.12" width="31.54" height="14.67" fill="#861c2c"/><rect x="969.56" y="594.12" width="15.92" height="14.67" fill="#5a2a46"/><rect x="985.18" y="594.12" width="15.92" height="14.67" fill="#a41824"/>
<rect x="688.4" y="608.49" width="15.92" height="14.67" fill="#d21a1c"/><rect x="704.02" y="608.49" width="15.92" height="14.67" fill="#bc181e"/><rect x="719.64" y="608.49" width="15.92" height="14.67" fill="#861c2c"/><rect x="735.26" y="608.49" width="15.92" height="14.67" fill="#e6261a"/><rect x="766.5" y="608.49" width="15.92" height="14.67" fill="#a41824"/><rect x="782.12" y="608.49" width="15.92" height="14.67" fill="#d21a1c"/><rect x="797.74" y="608.49" width="15.92" height="14.67" fill="#861c2c"/><rect x="813.36" y="608.49" width="62.78" height="14.67" fill="#d21a1c"/><rect x="875.84" y="608.49" width="15.92" height="14.67" fill="#bc181e"/><rect x="891.46" y="608.49" width="15.92" height="14.67" fill="#d21a1c"/><rect x="907.08" y="608.49" width="15.92" height="14.67" fill="#bc181e"/><rect x="922.7" y="608.49" width="15.92" height="14.67" fill="#a41824"/><rect x="938.32" y="608.49" width="15.92" height="14.67" fill="#d21a1c"/><rect x="953.94" y="608.49" width="31.54" height="14.67" fill="#5a2a46"/><rect x="985.18" y="608.49" width="15.92" height="14.67" fill="#2a68a0"/>
<rect x="750.88" y="622.87" width="15.92" height="14.67" fill="#a41824"/><rect x="766.5" y="622.87" width="15.92" height="14.67" fill="#bc181e"/><rect x="782.12" y="622.87" width="15.92" height="14.67" fill="#861c2c"/><rect x="797.74" y="622.87" width="31.54" height="14.67" fill="#a41824"/><rect x="828.98" y="622.87" width="31.54" height="14.67" fill="#861c2c"/><rect x="860.22" y="622.87" width="15.92" height="14.67" fill="#5a2a46"/><rect x="875.84" y="622.87" width="15.92" height="14.67" fill="#861c2c"/><rect x="891.46" y="622.87" width="15.92" height="14.67" fill="#702234"/><rect x="907.08" y="622.87" width="15.92" height="14.67" fill="#bc181e"/><rect x="922.7" y="622.87" width="15.92" height="14.67" fill="#4a3558"/><rect x="938.32" y="622.87" width="15.92" height="14.67" fill="#702234"/><rect x="953.94" y="622.87" width="15.92" height="14.67" fill="#861c2c"/><rect x="969.56" y="622.87" width="15.92" height="14.67" fill="#4a3558"/>
<rect x="750.88" y="637.24" width="15.92" height="14.67" fill="#702234"/><rect x="766.5" y="637.24" width="15.92" height="14.67" fill="#a41824"/><rect x="782.12" y="637.24" width="31.54" height="14.67" fill="#861c2c"/><rect x="813.36" y="637.24" width="15.92" height="14.67" fill="#bc181e"/><rect x="828.98" y="637.24" width="62.78" height="14.67" fill="#a41824"/><rect x="891.46" y="637.24" width="15.92" height="14.67" fill="#861c2c"/><rect x="907.08" y="637.24" width="15.92" height="14.67" fill="#5a2a46"/><rect x="922.7" y="637.24" width="15.92" height="14.67" fill="#a41824"/><rect x="938.32" y="637.24" width="15.92" height="14.67" fill="#861c2c"/><rect x="953.94" y="637.24" width="15.92" height="14.67" fill="#a41824"/><rect x="969.56" y="637.24" width="15.92" height="14.67" fill="#4a3558"/>
<rect x="735.26" y="651.61" width="15.92" height="14.67" fill="#702234"/><rect x="750.88" y="651.61" width="15.92" height="14.67" fill="#d21a1c"/><rect x="766.5" y="651.61" width="15.92" height="14.67" fill="#bc181e"/><rect x="782.12" y="651.61" width="15.92" height="14.67" fill="#5a2a46"/><rect x="797.74" y="651.61" width="15.92" height="14.67" fill="#d21a1c"/><rect x="813.36" y="651.61" width="15.92" height="14.67" fill="#861c2c"/><rect x="828.98" y="651.61" width="15.92" height="14.67" fill="#bc181e"/><rect x="844.6" y="651.61" width="15.92" height="14.67" fill="#5a2a46"/><rect x="860.22" y="651.61" width="15.92" height="14.67" fill="#3e4272"/><rect x="875.84" y="651.61" width="15.92" height="14.67" fill="#702234"/><rect x="891.46" y="651.61" width="47.16" height="14.67" fill="#a41824"/><rect x="938.32" y="651.61" width="15.92" height="14.67" fill="#861c2c"/><rect x="953.94" y="651.61" width="15.92" height="14.67" fill="#5a2a46"/><rect x="969.56" y="651.61" width="15.92" height="14.67" fill="#a41824"/><rect x="985.18" y="651.61" width="15.92" height="14.67" fill="#861c2c"/>
<rect x="735.26" y="665.99" width="15.92" height="14.67" fill="#d21a1c"/><rect x="750.88" y="665.99" width="15.92" height="14.67" fill="#335a90"/><rect x="766.5" y="665.99" width="15.92" height="14.67" fill="#bc181e"/><rect x="782.12" y="665.99" width="15.92" height="14.67" fill="#a41824"/><rect x="797.74" y="665.99" width="15.92" height="14.67" fill="#e6261a"/><rect x="844.6" y="665.99" width="15.92" height="14.67" fill="#bc181e"/><rect x="860.22" y="665.99" width="31.54" height="14.67" fill="#861c2c"/><rect x="891.46" y="665.99" width="15.92" height="14.67" fill="#bc181e"/><rect x="907.08" y="665.99" width="15.92" height="14.67" fill="#702234"/><rect x="922.7" y="665.99" width="15.92" height="14.67" fill="#861c2c"/><rect x="938.32" y="665.99" width="15.92" height="14.67" fill="#d21a1c"/><rect x="953.94" y="665.99" width="15.92" height="14.67" fill="#bc181e"/><rect x="969.56" y="665.99" width="15.92" height="14.67" fill="#a41824"/><rect x="985.18" y="665.99" width="15.92" height="14.67" fill="#702234"/>
<rect x="735.26" y="680.36" width="15.92" height="14.67" fill="#a41824"/><rect x="750.88" y="680.36" width="15.92" height="14.67" fill="#861c2c"/><rect x="766.5" y="680.36" width="31.54" height="14.67" fill="#a41824"/><rect x="797.74" y="680.36" width="15.92" height="14.67" fill="#702234"/><rect x="828.98" y="680.36" width="15.92" height="14.67" fill="#a41824"/><rect x="844.6" y="680.36" width="15.92" height="14.67" fill="#bc181e"/><rect x="860.22" y="680.36" width="15.92" height="14.67" fill="#5a2a46"/><rect x="875.84" y="680.36" width="15.92" height="14.67" fill="#a41824"/><rect x="891.46" y="680.36" width="31.54" height="14.67" fill="#bc181e"/><rect x="922.7" y="680.36" width="15.92" height="14.67" fill="#702234"/><rect x="938.32" y="680.36" width="31.54" height="14.67" fill="#bc181e"/>
<rect x="735.26" y="694.73" width="31.54" height="14.67" fill="#bc181e"/><rect x="766.5" y="694.73" width="15.92" height="14.67" fill="#d21a1c"/><rect x="782.12" y="694.73" width="31.54" height="14.67" fill="#a41824"/><rect x="828.98" y="694.73" width="15.92" height="14.67" fill="#a41824"/><rect x="844.6" y="694.73" width="31.54" height="14.67" fill="#861c2c"/><rect x="875.84" y="694.73" width="15.92" height="14.67" fill="#d21a1c"/><rect x="891.46" y="694.73" width="15.92" height="14.67" fill="#a41824"/><rect x="907.08" y="694.73" width="15.92" height="14.67" fill="#861c2c"/>
<rect x="766.5" y="709.11" width="15.92" height="14.67" fill="#861c2c"/><rect x="782.12" y="709.11" width="31.54" height="14.67" fill="#d21a1c"/><rect x="813.36" y="709.11" width="15.92" height="14.67" fill="#a41824"/><rect x="828.98" y="709.11" width="31.54" height="14.67" fill="#bc181e"/><rect x="860.22" y="709.11" width="15.92" height="14.67" fill="#861c2c"/><rect x="875.84" y="709.11" width="15.92" height="14.67" fill="#d21a1c"/><rect x="891.46" y="709.11" width="15.92" height="14.67" fill="#861c2c"/>
<rect x="782.12" y="723.48" width="15.92" height="14.67" fill="#702234"/><rect x="813.36" y="723.48" width="31.54" height="14.67" fill="#bc181e"/><rect x="844.6" y="723.48" width="15.92" height="14.67" fill="#d21a1c"/><rect x="860.22" y="723.48" width="15.92" height="14.67" fill="#4a3558"/>
<rect x="813.36" y="737.85" width="15.92" height="14.67" fill="#ffff00"/><rect x="828.98" y="737.85" width="15.92" height="14.67" fill="#a41824"/><rect x="844.6" y="737.85" width="15.92" height="14.67" fill="#702234"/><rect x="860.22" y="737.85" width="15.92" height="14.67" fill="#a41824"/>
<rect x="844.6" y="752.23" width="15.92" height="14.67" fill="#bc181e"/>
</g>
<rect x="688.4" y="551" width="312.4" height="215.6" fill="none" stroke="#1a1a1a" stroke-width="1.3"/>
<g shape-rendering="crispEdges">
<rect x="1006.1" y="551" width="15.8" height="14.67" fill="#e6261a"/><rect x="1021.6" y="551" width="15.8" height="14.67" fill="#702234"/><rect x="1037.1" y="551" width="15.8" height="14.67" fill="#335a90"/><rect x="1052.6" y="551" width="15.8" height="14.67" fill="#a41824"/><rect x="1099.1" y="551" width="15.8" height="14.67" fill="#d21a1c"/><rect x="1114.6" y="551" width="31.3" height="14.67" fill="#e6261a"/><rect x="1145.6" y="551" width="15.8" height="14.67" fill="#a41824"/><rect x="1161.1" y="551" width="15.8" height="14.67" fill="#e6261a"/><rect x="1176.6" y="551" width="15.8" height="14.67" fill="#4a3558"/><rect x="1192.1" y="551" width="31.3" height="14.67" fill="#e6261a"/><rect x="1223.1" y="551" width="15.8" height="14.67" fill="#fa5818"/><rect x="1238.6" y="551" width="15.8" height="14.67" fill="#861c2c"/><rect x="1254.1" y="551" width="15.8" height="14.67" fill="#f23e1a"/><rect x="1269.6" y="551" width="31.3" height="14.67" fill="#d21a1c"/>
<rect x="1006.1" y="565.37" width="15.8" height="14.67" fill="#bc181e"/><rect x="1021.6" y="565.37" width="31.3" height="14.67" fill="#861c2c"/><rect x="1052.6" y="565.37" width="31.3" height="14.67" fill="#d21a1c"/><rect x="1083.6" y="565.37" width="15.8" height="14.67" fill="#bc181e"/><rect x="1114.6" y="565.37" width="15.8" height="14.67" fill="#702234"/><rect x="1130.1" y="565.37" width="15.8" height="14.67" fill="#e6261a"/><rect x="1145.6" y="565.37" width="108.8" height="14.67" fill="#d21a1c"/><rect x="1254.1" y="565.37" width="31.3" height="14.67" fill="#bc181e"/><rect x="1285.1" y="565.37" width="15.8" height="14.67" fill="#f23e1a"/><rect x="1300.6" y="565.37" width="15.8" height="14.67" fill="#a41824"/>
<rect x="1006.1" y="579.75" width="15.8" height="14.67" fill="#d21a1c"/><rect x="1021.6" y="579.75" width="15.8" height="14.67" fill="#f23e1a"/><rect x="1052.6" y="579.75" width="31.3" height="14.67" fill="#d21a1c"/><rect x="1083.6" y="579.75" width="15.8" height="14.67" fill="#e6261a"/><rect x="1099.1" y="579.75" width="15.8" height="14.67" fill="#fa5818"/><rect x="1114.6" y="579.75" width="31.3" height="14.67" fill="#d21a1c"/><rect x="1145.6" y="579.75" width="15.8" height="14.67" fill="#e6261a"/><rect x="1161.1" y="579.75" width="31.3" height="14.67" fill="#a41824"/><rect x="1192.1" y="579.75" width="15.8" height="14.67" fill="#f23e1a"/><rect x="1207.6" y="579.75" width="46.8" height="14.67" fill="#a41824"/><rect x="1254.1" y="579.75" width="15.8" height="14.67" fill="#bc181e"/><rect x="1269.6" y="579.75" width="15.8" height="14.67" fill="#d21a1c"/><rect x="1285.1" y="579.75" width="15.8" height="14.67" fill="#861c2c"/><rect x="1300.6" y="579.75" width="15.8" height="14.67" fill="#e6261a"/>
<rect x="1006.1" y="594.12" width="46.8" height="14.67" fill="#d21a1c"/><rect x="1052.6" y="594.12" width="15.8" height="14.67" fill="#fa5818"/><rect x="1068.1" y="594.12" width="15.8" height="14.67" fill="#d21a1c"/><rect x="1099.1" y="594.12" width="46.8" height="14.67" fill="#d21a1c"/><rect x="1145.6" y="594.12" width="15.8" height="14.67" fill="#bc181e"/><rect x="1161.1" y="594.12" width="31.3" height="14.67" fill="#e6261a"/><rect x="1192.1" y="594.12" width="15.8" height="14.67" fill="#bc181e"/><rect x="1207.6" y="594.12" width="31.3" height="14.67" fill="#a41824"/><rect x="1238.6" y="594.12" width="15.8" height="14.67" fill="#861c2c"/><rect x="1254.1" y="594.12" width="15.8" height="14.67" fill="#d21a1c"/><rect x="1269.6" y="594.12" width="15.8" height="14.67" fill="#bc181e"/><rect x="1285.1" y="594.12" width="15.8" height="14.67" fill="#861c2c"/><rect x="1300.6" y="594.12" width="15.8" height="14.67" fill="#d21a1c"/>
<rect x="1006.1" y="608.49" width="15.8" height="14.67" fill="#e6261a"/><rect x="1021.6" y="608.49" width="31.3" height="14.67" fill="#bc181e"/><rect x="1052.6" y="608.49" width="15.8" height="14.67" fill="#e6261a"/><rect x="1083.6" y="608.49" width="15.8" height="14.67" fill="#a41824"/><rect x="1099.1" y="608.49" width="15.8" height="14.67" fill="#e6261a"/><rect x="1114.6" y="608.49" width="15.8" height="14.67" fill="#d21a1c"/><rect x="1130.1" y="608.49" width="15.8" height="14.67" fill="#e6261a"/><rect x="1145.6" y="608.49" width="15.8" height="14.67" fill="#f23e1a"/><rect x="1161.1" y="608.49" width="15.8" height="14.67" fill="#fa5818"/><rect x="1176.6" y="608.49" width="15.8" height="14.67" fill="#e6261a"/><rect x="1192.1" y="608.49" width="62.3" height="14.67" fill="#d21a1c"/><rect x="1254.1" y="608.49" width="15.8" height="14.67" fill="#e6261a"/><rect x="1269.6" y="608.49" width="46.8" height="14.67" fill="#861c2c"/>
<rect x="1068.1" y="622.87" width="31.3" height="14.67" fill="#bc181e"/><rect x="1099.1" y="622.87" width="15.8" height="14.67" fill="#a41824"/><rect x="1114.6" y="622.87" width="31.3" height="14.67" fill="#bc181e"/><rect x="1145.6" y="622.87" width="15.8" height="14.67" fill="#a41824"/><rect x="1161.1" y="622.87" width="46.8" height="14.67" fill="#bc181e"/><rect x="1207.6" y="622.87" width="15.8" height="14.67" fill="#702234"/><rect x="1223.1" y="622.87" width="15.8" height="14.67" fill="#d21a1c"/><rect x="1238.6" y="622.87" width="15.8" height="14.67" fill="#a41824"/><rect x="1254.1" y="622.87" width="15.8" height="14.67" fill="#d21a1c"/><rect x="1269.6" y="622.87" width="15.8" height="14.67" fill="#bc181e"/><rect x="1285.1" y="622.87" width="15.8" height="14.67" fill="#a41824"/>
<rect x="1068.1" y="637.24" width="15.8" height="14.67" fill="#bc181e"/><rect x="1083.6" y="637.24" width="15.8" height="14.67" fill="#d21a1c"/><rect x="1099.1" y="637.24" width="31.3" height="14.67" fill="#a41824"/><rect x="1130.1" y="637.24" width="15.8" height="14.67" fill="#d21a1c"/><rect x="1145.6" y="637.24" width="31.3" height="14.67" fill="#bc181e"/><rect x="1176.6" y="637.24" width="15.8" height="14.67" fill="#d21a1c"/><rect x="1192.1" y="637.24" width="15.8" height="14.67" fill="#bc181e"/><rect x="1207.6" y="637.24" width="31.3" height="14.67" fill="#a41824"/><rect x="1238.6" y="637.24" width="15.8" height="14.67" fill="#bc181e"/><rect x="1254.1" y="637.24" width="15.8" height="14.67" fill="#a41824"/><rect x="1269.6" y="637.24" width="15.8" height="14.67" fill="#d21a1c"/><rect x="1285.1" y="637.24" width="15.8" height="14.67" fill="#861c2c"/>
<rect x="1052.6" y="651.61" width="46.8" height="14.67" fill="#d21a1c"/><rect x="1099.1" y="651.61" width="15.8" height="14.67" fill="#bc181e"/><rect x="1114.6" y="651.61" width="15.8" height="14.67" fill="#e6261a"/><rect x="1130.1" y="651.61" width="15.8" height="14.67" fill="#bc181e"/><rect x="1145.6" y="651.61" width="15.8" height="14.67" fill="#d21a1c"/><rect x="1161.1" y="651.61" width="15.8" height="14.67" fill="#a41824"/><rect x="1176.6" y="651.61" width="31.3" height="14.67" fill="#bc181e"/><rect x="1207.6" y="651.61" width="31.3" height="14.67" fill="#d21a1c"/><rect x="1238.6" y="651.61" width="31.3" height="14.67" fill="#bc181e"/><rect x="1269.6" y="651.61" width="15.8" height="14.67" fill="#a41824"/><rect x="1285.1" y="651.61" width="15.8" height="14.67" fill="#bc181e"/><rect x="1300.6" y="651.61" width="15.8" height="14.67" fill="#702234"/>
<rect x="1052.6" y="665.99" width="15.8" height="14.67" fill="#f23e1a"/><rect x="1068.1" y="665.99" width="15.8" height="14.67" fill="#d21a1c"/><rect x="1083.6" y="665.99" width="15.8" height="14.67" fill="#e6261a"/><rect x="1099.1" y="665.99" width="31.3" height="14.67" fill="#f23e1a"/><rect x="1161.1" y="665.99" width="15.8" height="14.67" fill="#bc181e"/><rect x="1176.6" y="665.99" width="31.3" height="14.67" fill="#d21a1c"/><rect x="1207.6" y="665.99" width="15.8" height="14.67" fill="#e6261a"/><rect x="1223.1" y="665.99" width="15.8" height="14.67" fill="#a41824"/><rect x="1238.6" y="665.99" width="15.8" height="14.67" fill="#bc181e"/><rect x="1254.1" y="665.99" width="15.8" height="14.67" fill="#d21a1c"/><rect x="1269.6" y="665.99" width="31.3" height="14.67" fill="#bc181e"/><rect x="1300.6" y="665.99" width="15.8" height="14.67" fill="#861c2c"/>
<rect x="1052.6" y="680.36" width="15.8" height="14.67" fill="#e6261a"/><rect x="1068.1" y="680.36" width="15.8" height="14.67" fill="#d21a1c"/><rect x="1083.6" y="680.36" width="31.3" height="14.67" fill="#e6261a"/><rect x="1114.6" y="680.36" width="15.8" height="14.67" fill="#d21a1c"/><rect x="1145.6" y="680.36" width="31.3" height="14.67" fill="#bc181e"/><rect x="1176.6" y="680.36" width="15.8" height="14.67" fill="#d21a1c"/><rect x="1192.1" y="680.36" width="31.3" height="14.67" fill="#e6261a"/><rect x="1223.1" y="680.36" width="15.8" height="14.67" fill="#d21a1c"/><rect x="1238.6" y="680.36" width="15.8" height="14.67" fill="#861c2c"/><rect x="1254.1" y="680.36" width="15.8" height="14.67" fill="#bc181e"/><rect x="1269.6" y="680.36" width="15.8" height="14.67" fill="#e6261a"/>
<rect x="1052.6" y="694.73" width="31.3" height="14.67" fill="#d21a1c"/><rect x="1083.6" y="694.73" width="31.3" height="14.67" fill="#e6261a"/><rect x="1114.6" y="694.73" width="15.8" height="14.67" fill="#d21a1c"/><rect x="1145.6" y="694.73" width="15.8" height="14.67" fill="#d21a1c"/><rect x="1161.1" y="694.73" width="15.8" height="14.67" fill="#bc181e"/><rect x="1176.6" y="694.73" width="15.8" height="14.67" fill="#a41824"/><rect x="1192.1" y="694.73" width="15.8" height="14.67" fill="#e6261a"/><rect x="1207.6" y="694.73" width="15.8" height="14.67" fill="#d21a1c"/><rect x="1223.1" y="694.73" width="15.8" height="14.67" fill="#bc181e"/>
<rect x="1083.6" y="709.11" width="15.8" height="14.67" fill="#d21a1c"/><rect x="1099.1" y="709.11" width="15.8" height="14.67" fill="#e6261a"/><rect x="1114.6" y="709.11" width="15.8" height="14.67" fill="#fa5818"/><rect x="1130.1" y="709.11" width="46.8" height="14.67" fill="#d21a1c"/><rect x="1176.6" y="709.11" width="15.8" height="14.67" fill="#a41824"/><rect x="1192.1" y="709.11" width="31.3" height="14.67" fill="#e6261a"/>
<rect x="1099.1" y="723.48" width="15.8" height="14.67" fill="#e6261a"/><rect x="1130.1" y="723.48" width="31.3" height="14.67" fill="#d21a1c"/><rect x="1161.1" y="723.48" width="15.8" height="14.67" fill="#bc181e"/><rect x="1176.6" y="723.48" width="15.8" height="14.67" fill="#a41824"/>
<rect x="1130.1" y="737.85" width="15.8" height="14.67" fill="#ffff00"/><rect x="1145.6" y="737.85" width="15.8" height="14.67" fill="#d21a1c"/><rect x="1161.1" y="737.85" width="15.8" height="14.67" fill="#bc181e"/><rect x="1176.6" y="737.85" width="15.8" height="14.67" fill="#a41824"/>
<rect x="1161.1" y="752.23" width="15.8" height="14.67" fill="#e6261a"/>
</g>
<rect x="1006.1" y="551" width="310" height="215.6" fill="none" stroke="#1a1a1a" stroke-width="1.3"/>
<g shape-rendering="crispEdges">
<rect x="1320.6" y="550.4" width="15.98" height="14.79" fill="#a41824"/><rect x="1336.28" y="550.4" width="15.98" height="14.79" fill="#861c2c"/><rect x="1351.96" y="550.4" width="15.98" height="14.79" fill="#d21a1c"/><rect x="1367.64" y="550.4" width="15.98" height="14.79" fill="#bc181e"/><rect x="1414.68" y="550.4" width="47.34" height="14.79" fill="#a41824"/><rect x="1461.72" y="550.4" width="15.98" height="14.79" fill="#702234"/><rect x="1477.4" y="550.4" width="15.98" height="14.79" fill="#861c2c"/><rect x="1493.08" y="550.4" width="63.02" height="14.79" fill="#d21a1c"/><rect x="1555.8" y="550.4" width="15.98" height="14.79" fill="#bc181e"/><rect x="1571.48" y="550.4" width="15.98" height="14.79" fill="#d21a1c"/><rect x="1587.16" y="550.4" width="15.98" height="14.79" fill="#bc181e"/><rect x="1602.84" y="550.4" width="15.98" height="14.79" fill="#702234"/>
<rect x="1320.6" y="564.89" width="15.98" height="14.79" fill="#d21a1c"/><rect x="1336.28" y="564.89" width="15.98" height="14.79" fill="#861c2c"/><rect x="1351.96" y="564.89" width="31.66" height="14.79" fill="#a41824"/><rect x="1383.32" y="564.89" width="15.98" height="14.79" fill="#bc181e"/><rect x="1399" y="564.89" width="15.98" height="14.79" fill="#5a2a46"/><rect x="1430.36" y="564.89" width="15.98" height="14.79" fill="#861c2c"/><rect x="1446.04" y="564.89" width="15.98" height="14.79" fill="#5a2a46"/><rect x="1461.72" y="564.89" width="15.98" height="14.79" fill="#861c2c"/><rect x="1477.4" y="564.89" width="15.98" height="14.79" fill="#702234"/><rect x="1493.08" y="564.89" width="15.98" height="14.79" fill="#861c2c"/><rect x="1508.76" y="564.89" width="15.98" height="14.79" fill="#a41824"/><rect x="1524.44" y="564.89" width="15.98" height="14.79" fill="#f23e1a"/><rect x="1540.12" y="564.89" width="31.66" height="14.79" fill="#861c2c"/><rect x="1571.48" y="564.89" width="31.66" height="14.79" fill="#a41824"/><rect x="1602.84" y="564.89" width="15.98" height="14.79" fill="#d21a1c"/><rect x="1618.52" y="564.89" width="15.98" height="14.79" fill="#bc181e"/>
<rect x="1320.6" y="579.39" width="15.98" height="14.79" fill="#d21a1c"/><rect x="1336.28" y="579.39" width="15.98" height="14.79" fill="#a41824"/><rect x="1367.64" y="579.39" width="31.66" height="14.79" fill="#861c2c"/><rect x="1399" y="579.39" width="15.98" height="14.79" fill="#a41824"/><rect x="1414.68" y="579.39" width="15.98" height="14.79" fill="#d21a1c"/><rect x="1430.36" y="579.39" width="15.98" height="14.79" fill="#a41824"/><rect x="1446.04" y="579.39" width="47.34" height="14.79" fill="#861c2c"/><rect x="1493.08" y="579.39" width="15.98" height="14.79" fill="#702234"/><rect x="1508.76" y="579.39" width="15.98" height="14.79" fill="#a41824"/><rect x="1524.44" y="579.39" width="15.98" height="14.79" fill="#702234"/><rect x="1540.12" y="579.39" width="31.66" height="14.79" fill="#861c2c"/><rect x="1571.48" y="579.39" width="15.98" height="14.79" fill="#a41824"/><rect x="1587.16" y="579.39" width="31.66" height="14.79" fill="#861c2c"/><rect x="1618.52" y="579.39" width="15.98" height="14.79" fill="#a41824"/>
<rect x="1320.6" y="593.88" width="31.66" height="14.79" fill="#861c2c"/><rect x="1351.96" y="593.88" width="15.98" height="14.79" fill="#bc181e"/><rect x="1367.64" y="593.88" width="15.98" height="14.79" fill="#a41824"/><rect x="1383.32" y="593.88" width="15.98" height="14.79" fill="#bc181e"/><rect x="1414.68" y="593.88" width="15.98" height="14.79" fill="#a41824"/><rect x="1430.36" y="593.88" width="47.34" height="14.79" fill="#861c2c"/><rect x="1477.4" y="593.88" width="15.98" height="14.79" fill="#a41824"/><rect x="1493.08" y="593.88" width="15.98" height="14.79" fill="#bc181e"/><rect x="1508.76" y="593.88" width="31.66" height="14.79" fill="#a41824"/><rect x="1540.12" y="593.88" width="15.98" height="14.79" fill="#5a2a46"/><rect x="1555.8" y="593.88" width="47.34" height="14.79" fill="#861c2c"/><rect x="1602.84" y="593.88" width="15.98" height="14.79" fill="#bc181e"/><rect x="1618.52" y="593.88" width="15.98" height="14.79" fill="#a41824"/>
<rect x="1320.6" y="608.37" width="15.98" height="14.79" fill="#702234"/><rect x="1336.28" y="608.37" width="15.98" height="14.79" fill="#bc181e"/><rect x="1351.96" y="608.37" width="15.98" height="14.79" fill="#a41824"/><rect x="1367.64" y="608.37" width="15.98" height="14.79" fill="#861c2c"/><rect x="1399" y="608.37" width="15.98" height="14.79" fill="#a41824"/><rect x="1414.68" y="608.37" width="47.34" height="14.79" fill="#bc181e"/><rect x="1461.72" y="608.37" width="15.98" height="14.79" fill="#a41824"/><rect x="1477.4" y="608.37" width="15.98" height="14.79" fill="#fa5818"/><rect x="1493.08" y="608.37" width="31.66" height="14.79" fill="#d21a1c"/><rect x="1524.44" y="608.37" width="15.98" height="14.79" fill="#bc181e"/><rect x="1540.12" y="608.37" width="47.34" height="14.79" fill="#d21a1c"/><rect x="1587.16" y="608.37" width="31.66" height="14.79" fill="#e6261a"/><rect x="1618.52" y="608.37" width="15.98" height="14.79" fill="#d21a1c"/>
<rect x="1383.32" y="622.87" width="15.98" height="14.79" fill="#a41824"/><rect x="1399" y="622.87" width="15.98" height="14.79" fill="#bc181e"/><rect x="1414.68" y="622.87" width="15.98" height="14.79" fill="#702234"/><rect x="1430.36" y="622.87" width="15.98" height="14.79" fill="#a41824"/><rect x="1446.04" y="622.87" width="15.98" height="14.79" fill="#861c2c"/><rect x="1461.72" y="622.87" width="15.98" height="14.79" fill="#bc181e"/><rect x="1477.4" y="622.87" width="15.98" height="14.79" fill="#a41824"/><rect x="1493.08" y="622.87" width="15.98" height="14.79" fill="#bc181e"/><rect x="1508.76" y="622.87" width="31.66" height="14.79" fill="#861c2c"/><rect x="1540.12" y="622.87" width="15.98" height="14.79" fill="#bc181e"/><rect x="1555.8" y="622.87" width="15.98" height="14.79" fill="#e6261a"/><rect x="1571.48" y="622.87" width="31.66" height="14.79" fill="#a41824"/><rect x="1602.84" y="622.87" width="15.98" height="14.79" fill="#d21a1c"/>
<rect x="1383.32" y="637.36" width="31.66" height="14.79" fill="#861c2c"/><rect x="1414.68" y="637.36" width="31.66" height="14.79" fill="#a41824"/><rect x="1446.04" y="637.36" width="63.02" height="14.79" fill="#d21a1c"/><rect x="1508.76" y="637.36" width="15.98" height="14.79" fill="#a41824"/><rect x="1524.44" y="637.36" width="15.98" height="14.79" fill="#bc181e"/><rect x="1540.12" y="637.36" width="15.98" height="14.79" fill="#e6261a"/><rect x="1555.8" y="637.36" width="15.98" height="14.79" fill="#bc181e"/><rect x="1571.48" y="637.36" width="47.34" height="14.79" fill="#d21a1c"/>
<rect x="1367.64" y="651.85" width="15.98" height="14.79" fill="#a41824"/><rect x="1383.32" y="651.85" width="31.66" height="14.79" fill="#d21a1c"/><rect x="1414.68" y="651.85" width="47.34" height="14.79" fill="#e6261a"/><rect x="1461.72" y="651.85" width="15.98" height="14.79" fill="#702234"/><rect x="1477.4" y="651.85" width="31.66" height="14.79" fill="#861c2c"/><rect x="1508.76" y="651.85" width="15.98" height="14.79" fill="#a41824"/><rect x="1524.44" y="651.85" width="15.98" height="14.79" fill="#d21a1c"/><rect x="1540.12" y="651.85" width="15.98" height="14.79" fill="#e6261a"/><rect x="1555.8" y="651.85" width="15.98" height="14.79" fill="#861c2c"/><rect x="1571.48" y="651.85" width="15.98" height="14.79" fill="#a41824"/><rect x="1587.16" y="651.85" width="47.34" height="14.79" fill="#d21a1c"/>
<rect x="1367.64" y="666.35" width="15.98" height="14.79" fill="#f23e1a"/><rect x="1383.32" y="666.35" width="15.98" height="14.79" fill="#d21a1c"/><rect x="1399" y="666.35" width="15.98" height="14.79" fill="#e6261a"/><rect x="1414.68" y="666.35" width="15.98" height="14.79" fill="#f23e1a"/><rect x="1430.36" y="666.35" width="15.98" height="14.79" fill="#e6261a"/><rect x="1477.4" y="666.35" width="31.66" height="14.79" fill="#d21a1c"/><rect x="1508.76" y="666.35" width="15.98" height="14.79" fill="#bc181e"/><rect x="1524.44" y="666.35" width="15.98" height="14.79" fill="#a41824"/><rect x="1540.12" y="666.35" width="15.98" height="14.79" fill="#861c2c"/><rect x="1555.8" y="666.35" width="31.66" height="14.79" fill="#f23e1a"/><rect x="1587.16" y="666.35" width="31.66" height="14.79" fill="#702234"/><rect x="1618.52" y="666.35" width="15.98" height="14.79" fill="#a41824"/>
<rect x="1367.64" y="680.84" width="15.98" height="14.79" fill="#e6261a"/><rect x="1383.32" y="680.84" width="15.98" height="14.79" fill="#861c2c"/><rect x="1399" y="680.84" width="15.98" height="14.79" fill="#a41824"/><rect x="1414.68" y="680.84" width="15.98" height="14.79" fill="#bc181e"/><rect x="1430.36" y="680.84" width="15.98" height="14.79" fill="#d21a1c"/><rect x="1461.72" y="680.84" width="31.66" height="14.79" fill="#bc181e"/><rect x="1493.08" y="680.84" width="15.98" height="14.79" fill="#861c2c"/><rect x="1508.76" y="680.84" width="15.98" height="14.79" fill="#a41824"/><rect x="1524.44" y="680.84" width="15.98" height="14.79" fill="#d21a1c"/><rect x="1540.12" y="680.84" width="31.66" height="14.79" fill="#e6261a"/><rect x="1571.48" y="680.84" width="15.98" height="14.79" fill="#d21a1c"/><rect x="1587.16" y="680.84" width="15.98" height="14.79" fill="#a41824"/>
<rect x="1367.64" y="695.33" width="31.66" height="14.79" fill="#d21a1c"/><rect x="1399" y="695.33" width="31.66" height="14.79" fill="#e6261a"/><rect x="1430.36" y="695.33" width="15.98" height="14.79" fill="#d21a1c"/><rect x="1461.72" y="695.33" width="15.98" height="14.79" fill="#e6261a"/><rect x="1477.4" y="695.33" width="15.98" height="14.79" fill="#f23e1a"/><rect x="1493.08" y="695.33" width="31.66" height="14.79" fill="#d21a1c"/><rect x="1524.44" y="695.33" width="15.98" height="14.79" fill="#a41824"/><rect x="1540.12" y="695.33" width="15.98" height="14.79" fill="#861c2c"/>
<rect x="1399" y="709.83" width="15.98" height="14.79" fill="#e6261a"/><rect x="1414.68" y="709.83" width="15.98" height="14.79" fill="#d21a1c"/><rect x="1430.36" y="709.83" width="15.98" height="14.79" fill="#f23e1a"/><rect x="1446.04" y="709.83" width="15.98" height="14.79" fill="#702234"/><rect x="1461.72" y="709.83" width="15.98" height="14.79" fill="#a41824"/><rect x="1477.4" y="709.83" width="15.98" height="14.79" fill="#d21a1c"/><rect x="1493.08" y="709.83" width="15.98" height="14.79" fill="#e6261a"/><rect x="1508.76" y="709.83" width="31.66" height="14.79" fill="#d21a1c"/>
<rect x="1414.68" y="724.32" width="15.98" height="14.79" fill="#e6261a"/><rect x="1446.04" y="724.32" width="31.66" height="14.79" fill="#d21a1c"/><rect x="1477.4" y="724.32" width="15.98" height="14.79" fill="#a41824"/><rect x="1493.08" y="724.32" width="15.98" height="14.79" fill="#bc181e"/>
<rect x="1446.04" y="738.81" width="15.98" height="14.79" fill="#fdbc14"/><rect x="1461.72" y="738.81" width="15.98" height="14.79" fill="#bc181e"/><rect x="1477.4" y="738.81" width="15.98" height="14.79" fill="#702234"/><rect x="1493.08" y="738.81" width="15.98" height="14.79" fill="#861c2c"/>
<rect x="1477.4" y="753.31" width="15.98" height="14.79" fill="#a41824"/>
</g>
<rect x="1320.6" y="550.4" width="313.6" height="217.4" fill="none" stroke="#1a1a1a" stroke-width="1.3"/>
<text x="780.3" y="23.6" font-size="30" letter-spacing="0.15">Trion PL</text>
<text x="1086.4" y="23.5" font-size="30" letter-spacing="0.22">Exciton PL</text>
<text x="1392.8" y="22.5" font-size="30" letter-spacing="0.27">Exciton RC</text>
<text class="s" x="727.9" y="268" font-size="32" textLength="224.4" lengthAdjust="spacingAndGlyphs">1.625 <tspan font-family="'DejaVu Sans', sans-serif" font-weight="200" font-size="29.5" stroke="#000" stroke-width="0.55" dy="2.6">±</tspan><tspan dy="-2.6"> 0.002 eV</tspan></text>
<text class="s" x="1045.9" y="268.3" font-size="32" textLength="222.4" lengthAdjust="spacingAndGlyphs">1.653 <tspan font-family="'DejaVu Sans', sans-serif" font-weight="200" font-size="29.5" stroke="#000" stroke-width="0.55" dy="2.6">±</tspan><tspan dy="-2.6"> 0.002 eV</tspan></text>
<text class="s" x="1360.4" y="268.3" font-size="32" textLength="222.7" lengthAdjust="spacingAndGlyphs">1.654 <tspan font-family="'DejaVu Sans', sans-serif" font-weight="200" font-size="29.5" stroke="#000" stroke-width="0.55" dy="2.6">±</tspan><tspan dy="-2.6"> 0.002 eV</tspan></text>
<text class="s" x="749.9" y="524.8" font-size="32" textLength="183.4" lengthAdjust="spacingAndGlyphs">8.2 <tspan font-family="'DejaVu Sans', sans-serif" font-weight="200" font-size="29.5" stroke="#000" stroke-width="0.55" dy="2.6">±</tspan><tspan dy="-2.6"> 0.6 meV</tspan></text>
<text class="s" x="1072.9" y="524.8" font-size="32" textLength="181.4" lengthAdjust="spacingAndGlyphs">7.1 <tspan font-family="'DejaVu Sans', sans-serif" font-weight="200" font-size="29.5" stroke="#000" stroke-width="0.55" dy="2.6">±</tspan><tspan dy="-2.6"> 0.4 meV</tspan></text>
<text class="s" x="1381.9" y="523.8" font-size="32" textLength="182.9" lengthAdjust="spacingAndGlyphs">8.8 <tspan font-family="'DejaVu Sans', sans-serif" font-weight="200" font-size="29.5" stroke="#000" stroke-width="0.55" dy="2.6">±</tspan><tspan dy="-2.6"> 1.3 meV</tspan></text>
<text class="s" x="767.4" y="789.6" font-size="32" textLength="149.9" lengthAdjust="spacingAndGlyphs">0.50 <tspan font-family="'DejaVu Sans', sans-serif" font-weight="200" font-size="29.5" stroke="#000" stroke-width="0.55" dy="2.6">±</tspan><tspan dy="-2.6"> 0.07</tspan></text>
<text class="s" x="1087.9" y="789.2" font-size="32" textLength="151.2" lengthAdjust="spacingAndGlyphs">0.42 <tspan font-family="'DejaVu Sans', sans-serif" font-weight="200" font-size="29.5" stroke="#000" stroke-width="0.55" dy="2.6">±</tspan><tspan dy="-2.6"> 0.06</tspan></text>
<text class="s" x="1398.7" y="791.4" font-size="32" textLength="150.9" lengthAdjust="spacingAndGlyphs">0.46 <tspan font-family="'DejaVu Sans', sans-serif" font-weight="200" font-size="29.5" stroke="#000" stroke-width="0.55" dy="2.6">±</tspan><tspan dy="-2.6"> 0.07</tspan></text>
<text x="961.8" y="241" font-size="30">b)</text>
<text x="1281.6" y="240.3" font-size="30">e)</text>
<text x="1599" y="236.5" font-size="30">h)</text>
<text x="961" y="495.4" font-size="30">c)</text>
<text x="1280.8" y="495.4" font-size="30">f)</text>
<text x="1599.5" y="493" font-size="30">i)</text>
<text x="965" y="761" font-size="30">d)</text>
<text x="1284.6" y="758" font-size="30">g)</text>
<text x="1603.5" y="755.5" font-size="30">j)</text>
<defs>
<linearGradient id="cbE" x1="0" y1="0" x2="0" y2="1"><stop offset="0" stop-color="#1c2a9c"/><stop offset="0.06" stop-color="#1a6ee0"/><stop offset="0.10" stop-color="#0c9fd0"/><stop offset="0.14" stop-color="#14b46a"/><stop offset="0.27" stop-color="#8fe07e"/><stop offset="0.39" stop-color="#ffff96"/><stop offset="0.50" stop-color="#c4a878"/><stop offset="0.59" stop-color="#8a5a4e"/><stop offset="0.75" stop-color="#b59c96"/><stop offset="1" stop-color="#ffffff"/></linearGradient>
<linearGradient id="cbL" x1="0" y1="0" x2="0" y2="1"><stop offset="0" stop-color="#000008"/><stop offset="0.5" stop-color="#0000ff"/><stop offset="1" stop-color="#ffffff"/></linearGradient>
<linearGradient id="cbI" x1="0" y1="0" x2="0" y2="1"><stop offset="0" stop-color="#000c28"/><stop offset="0.07" stop-color="#1060b0"/><stop offset="0.18" stop-color="#10a8f0"/><stop offset="0.28" stop-color="#2a78c8"/><stop offset="0.37" stop-color="#404068"/><stop offset="0.47" stop-color="#702030"/><stop offset="0.6" stop-color="#d01818"/><stop offset="0.7" stop-color="#ff4010"/><stop offset="0.83" stop-color="#ff9410"/><stop offset="1" stop-color="#ffff00"/></linearGradient>
</defs>
<rect x="674.2" y="58" width="9.6" height="152.8" fill="url(#cbE)" stroke="#000" stroke-width="1.2"/>
<line x1="669.2" y1="59.6" x2="674.2" y2="59.6" stroke="#000" stroke-width="1.1"/>
<text x="668" y="65.9" font-size="18" text-anchor="end">1.68</text>
<line x1="669.2" y1="97.4" x2="674.2" y2="97.4" stroke="#000" stroke-width="1.1"/>
<text x="668" y="103.7" font-size="18" text-anchor="end">1.66</text>
<line x1="669.2" y1="135.2" x2="674.2" y2="135.2" stroke="#000" stroke-width="1.1"/>
<text x="668" y="141.5" font-size="18" text-anchor="end">1.64</text>
<line x1="669.2" y1="173" x2="674.2" y2="173" stroke="#000" stroke-width="1.1"/>
<text x="668" y="179.3" font-size="18" text-anchor="end">1.62</text>
<line x1="669.2" y1="210.6" x2="674.2" y2="210.6" stroke="#000" stroke-width="1.1"/>
<text x="668" y="216.9" font-size="18" text-anchor="end">1.60</text>
<rect x="676.2" y="316.6" width="9.2" height="151.2" fill="url(#cbL)" stroke="#000" stroke-width="1.2"/>
<line x1="671.2" y1="317.6" x2="676.2" y2="317.6" stroke="#000" stroke-width="1.1"/>
<text x="670" y="323.9" font-size="18" text-anchor="end">15</text>
<line x1="671.2" y1="367.6" x2="676.2" y2="367.6" stroke="#000" stroke-width="1.1"/>
<text x="670" y="373.9" font-size="18" text-anchor="end">10</text>
<line x1="671.2" y1="417.6" x2="676.2" y2="417.6" stroke="#000" stroke-width="1.1"/>
<text x="670" y="423.9" font-size="18" text-anchor="end">5</text>
<line x1="671.2" y1="467.4" x2="676.2" y2="467.4" stroke="#000" stroke-width="1.1"/>
<text x="670" y="473.7" font-size="18" text-anchor="end">0</text>
<rect x="676.2" y="579.6" width="8.5" height="154.8" fill="url(#cbI)" stroke="#000" stroke-width="1.2"/>
<line x1="671.2" y1="581" x2="676.2" y2="581" stroke="#000" stroke-width="1.1"/>
<text x="670" y="587.3" font-size="18" text-anchor="end">1</text>
<line x1="671.2" y1="631.5" x2="676.2" y2="631.5" stroke="#000" stroke-width="1.1"/>
<line x1="671.2" y1="682" x2="676.2" y2="682" stroke="#000" stroke-width="1.1"/>
<line x1="671.2" y1="732.8" x2="676.2" y2="732.8" stroke="#000" stroke-width="1.1"/>
<text x="670" y="739.1" font-size="18" text-anchor="end">0</text>
<text transform="translate(625.2 137.3) rotate(-90)" font-size="26.2" text-anchor="middle">Energy</text>
<text transform="translate(639.3 390.5) rotate(-90)" font-size="28" text-anchor="middle" letter-spacing="0.55">Linewidth</text>
<text transform="translate(642 651.5) rotate(-90)" font-size="28" text-anchor="middle" letter-spacing="0.4">Intensity</text>
<text x="649" y="245.3" font-size="25.5">eV</text>
<text x="632.6" y="496.9" font-size="26.8">meV</text>
<text x="635.2" y="767" font-size="27">arb.</text>
<text x="635.2" y="799" font-size="27">units</text>
<rect x="1729.2" y="31.2" width="258.1" height="217.1" fill="#fff" stroke="#000" stroke-width="1.5"/>
<text x="1726.6" y="39.4" font-size="23" text-anchor="end">0.20</text>
<line x1="1729.2" y1="85.48" x2="1734.8" y2="85.48" stroke="#000" stroke-width="1.2"/>
<text x="1726.6" y="93.68" font-size="23" text-anchor="end">0.15</text>
<line x1="1729.2" y1="139.75" x2="1734.8" y2="139.75" stroke="#000" stroke-width="1.2"/>
<text x="1726.6" y="147.95" font-size="23" text-anchor="end">0.10</text>
<line x1="1729.2" y1="194.03" x2="1734.8" y2="194.03" stroke="#000" stroke-width="1.2"/>
<text x="1726.6" y="202.22" font-size="23" text-anchor="end">0.05</text>
<text x="1726.6" y="256.5" font-size="23" text-anchor="end">0.00</text>
<line x1="1793.72" y1="248.3" x2="1793.72" y2="242.7" stroke="#000" stroke-width="1.2"/>
<line x1="1858.25" y1="248.3" x2="1858.25" y2="242.7" stroke="#000" stroke-width="1.2"/>
<line x1="1922.78" y1="248.3" x2="1922.78" y2="242.7" stroke="#000" stroke-width="1.2"/>
<text x="1737.5" y="69" font-size="30">k)</text>
<text x="1802" y="58" font-size="30">Energy</text>
<text transform="translate(1671.6 142.1) rotate(-90)" font-size="27.5" text-anchor="middle">CV (%)</text>
<circle cx="1793.6" cy="117" r="10.3" fill="#000"/>
<circle cx="1840.2" cy="117" r="10.3" fill="#000"/>
<circle cx="1954.1" cy="117.1" r="10.3" fill="#000"/>
<path d="M1755 106.2 L1764.1 122.3 L1745.9 122.3 Z" fill="none" stroke="#0ac80a" stroke-width="4.8" stroke-linejoin="round"/>
<path d="M1954.1 106.3 L1963.2 122.4 L1945 122.4 Z" fill="none" stroke="#0ac80a" stroke-width="4.8" stroke-linejoin="round"/>
<rect x="1730.2" y="289.5" width="257.4" height="211.3" fill="#fff" stroke="#000" stroke-width="1.5"/>
<text x="1727.6" y="297.7" font-size="23" text-anchor="end">20</text>
<line x1="1730.2" y1="342.32" x2="1735.8" y2="342.32" stroke="#000" stroke-width="1.2"/>
<text x="1727.6" y="350.52" font-size="23" text-anchor="end">15</text>
<line x1="1730.2" y1="395.15" x2="1735.8" y2="395.15" stroke="#000" stroke-width="1.2"/>
<text x="1727.6" y="403.35" font-size="23" text-anchor="end">10</text>
<line x1="1730.2" y1="447.98" x2="1735.8" y2="447.98" stroke="#000" stroke-width="1.2"/>
<text x="1727.6" y="456.18" font-size="23" text-anchor="end">5</text>
<text x="1727.6" y="509" font-size="23" text-anchor="end">0</text>
<line x1="1794.55" y1="500.8" x2="1794.55" y2="495.2" stroke="#000" stroke-width="1.2"/>
<line x1="1858.9" y1="500.8" x2="1858.9" y2="495.2" stroke="#000" stroke-width="1.2"/>
<line x1="1923.25" y1="500.8" x2="1923.25" y2="495.2" stroke="#000" stroke-width="1.2"/>
<text x="1737.5" y="322" font-size="30">l)</text>
<text x="1788.5" y="321" font-size="30">Linewidth</text>
<text transform="translate(1692.5 398.4) rotate(-90)" font-size="27.5" text-anchor="middle">CV (%)</text>
<circle cx="1794.8" cy="381" r="10.2" fill="#000"/>
<circle cx="1841.2" cy="378.3" r="10.2" fill="#000"/>
<circle cx="1954.8" cy="350.2" r="10.2" fill="#000"/>
<path d="M1756.1 433.7 L1765.2 449.8 L1747 449.8 Z" fill="none" stroke="#0ac80a" stroke-width="4.8" stroke-linejoin="round"/>
<path d="M1955 431.1 L1964.1 447.2 L1945.9 447.2 Z" fill="none" stroke="#0ac80a" stroke-width="4.8" stroke-linejoin="round"/>
<rect x="1730.5" y="554.7" width="257.5" height="212.3" fill="#fff" stroke="#000" stroke-width="1.5"/>
<text x="1727.9" y="562.9" font-size="23" text-anchor="end">20</text>
<line x1="1730.5" y1="607.78" x2="1736.1" y2="607.78" stroke="#000" stroke-width="1.2"/>
<text x="1727.9" y="615.98" font-size="23" text-anchor="end">15</text>
<line x1="1730.5" y1="660.85" x2="1736.1" y2="660.85" stroke="#000" stroke-width="1.2"/>
<text x="1727.9" y="669.05" font-size="23" text-anchor="end">10</text>
<line x1="1730.5" y1="713.92" x2="1736.1" y2="713.92" stroke="#000" stroke-width="1.2"/>
<text x="1727.9" y="722.12" font-size="23" text-anchor="end">5</text>
<text x="1727.9" y="775.2" font-size="23" text-anchor="end">0</text>
<line x1="1794.88" y1="767" x2="1794.88" y2="761.4" stroke="#000" stroke-width="1.2"/>
<line x1="1859.25" y1="767" x2="1859.25" y2="761.4" stroke="#000" stroke-width="1.2"/>
<line x1="1923.62" y1="767" x2="1923.62" y2="761.4" stroke="#000" stroke-width="1.2"/>
<text x="1733.5" y="589" font-size="30">m)</text>
<text x="1798.3" y="580.4" font-size="30">Intensity</text>
<text transform="translate(1692.5 668) rotate(-90)" font-size="27.5" text-anchor="middle">CV (%)</text>
<circle cx="1794.8" cy="639.4" r="11.2" fill="#000"/>
<circle cx="1841.2" cy="634.4" r="11.2" fill="#000"/>
<circle cx="1954.9" cy="605.1" r="11.2" fill="#000"/>
<path d="M1756.1 643.4 L1765.2 659.5 L1747 659.5 Z" fill="none" stroke="#0ac80a" stroke-width="4.8" stroke-linejoin="round"/>
<path d="M1954.9 599.2 L1964 615.3 L1945.8 615.3 Z" fill="none" stroke="#0ac80a" stroke-width="4.8" stroke-linejoin="round"/>
<text x="1729.2" y="798" font-size="22" text-anchor="middle">0.001</text>
<text x="1793.5" y="798" font-size="22" text-anchor="middle">0.01</text>
<text x="1857.6" y="798" font-size="22" text-anchor="middle">0.1</text>
<text x="1923" y="798" font-size="22" text-anchor="middle">1</text>
<text x="1986.7" y="798" font-size="22" text-anchor="middle">10</text>
<text x="1783.8" y="825.3" font-size="26.7">Area (mm<tspan font-size="16.5" dy="-9.8">2</tspan><tspan dy="9.8">)</tspan></text>
</svg>
</body></html>
